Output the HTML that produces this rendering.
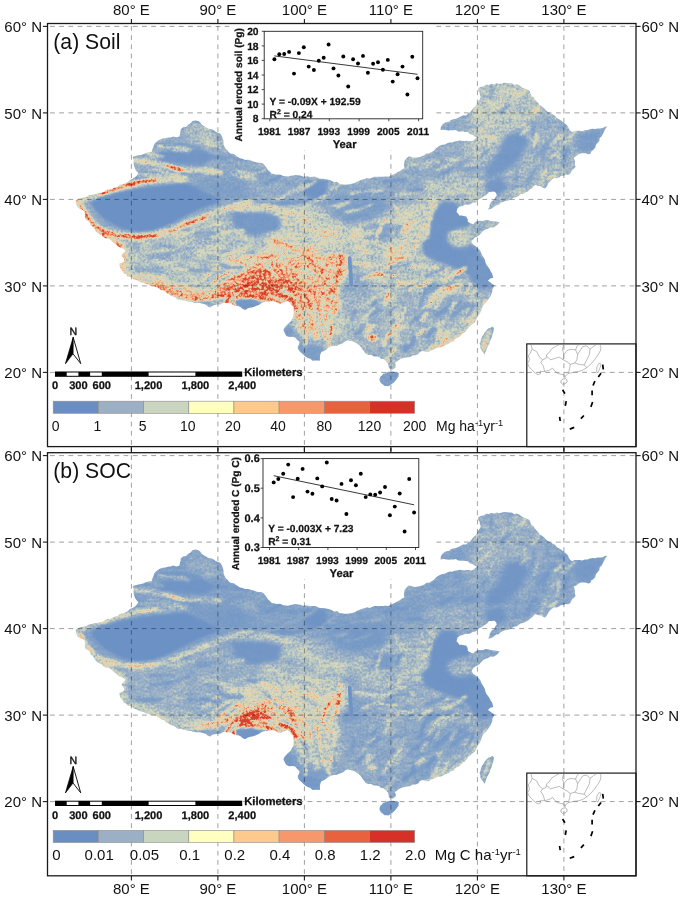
<!DOCTYPE html>
<html><head><meta charset="utf-8"><title>Soil and SOC erosion maps</title>
<style>
html,body{margin:0;padding:0;background:#fff}
svg{display:block}
text{font-family:"Liberation Sans",sans-serif;fill:#111}
.ax{font-size:15px}
.lg{font-size:14px}
.lgb{font-size:15px}
.ttl{font-size:21.2px}
.ct,.cl,.yr,.sb,.km{font-weight:bold;text-rendering:geometricPrecision;stroke:#111;stroke-width:.25px}
.ct{font-size:10.2px}
.cy{font-size:10.3px}
.cl{font-size:10.1px}
.yr{font-size:11.3px}
.sb{font-size:11.1px}
.km{font-size:11.3px}
.nn{font-size:10.6px;text-rendering:geometricPrecision;stroke:#111;stroke-width:.4px}
</style></head><body>
<svg width="685" height="899" viewBox="0 0 685 899">
<rect width="685" height="899" fill="#fff"/>
<defs><clipPath id="cn"><path d="M75.7 200.7 L78.4 198.8 L81.5 197.8 L84.2 197.6 L86.7 196.7 L89.0 195.3 L91.7 194.9 L94.0 194.3 L96.4 193.7 L98.8 193.4 L101.2 193.0 L103.4 192.0 L105.5 190.6 L107.8 189.6 L110.5 189.8 L112.6 188.4 L115.0 187.6 L117.7 186.9 L119.9 184.7 L122.7 184.2 L125.3 183.2 L127.9 182.0 L130.0 179.9 L132.6 178.8 L135.0 177.3 L136.9 175.4 L138.4 173.0 L136.3 170.9 L134.9 168.5 L134.0 165.7 L133.6 162.8 L133.7 159.7 L132.6 156.9 L135.5 156.1 L138.3 155.2 L141.3 154.9 L143.8 154.1 L146.3 152.8 L148.9 152.3 L151.6 152.0 L152.5 149.2 L153.5 146.5 L154.5 143.8 L156.2 142.0 L158.1 140.5 L160.3 139.4 L162.8 138.5 L165.4 138.3 L167.9 137.6 L170.5 137.4 L173.4 136.4 L176.4 137.3 L179.3 136.5 L179.9 134.1 L180.5 131.7 L180.8 129.2 L183.0 127.3 L186.0 126.9 L188.1 124.8 L190.6 123.3 L192.4 121.0 L195.4 120.4 L198.3 121.0 L200.4 122.6 L201.9 124.8 L204.1 126.3 L206.4 127.6 L208.7 128.8 L211.4 129.2 L213.7 130.2 L215.6 131.8 L217.9 132.7 L220.2 133.6 L221.9 136.4 L223.1 139.4 L223.5 141.9 L223.5 144.4 L224.6 146.7 L225.7 149.0 L227.5 150.6 L229.0 152.6 L231.1 153.8 L233.7 154.1 L235.7 155.5 L237.7 156.9 L240.0 158.3 L242.6 158.8 L245.0 159.9 L248.2 159.8 L251.3 160.7 L253.6 161.4 L255.9 162.2 L258.3 162.7 L260.7 162.8 L263.0 163.6 L264.8 165.6 L266.5 167.7 L267.9 170.0 L269.9 171.8 L271.7 173.8 L274.1 174.1 L276.4 174.7 L278.9 174.5 L281.2 175.0 L283.4 176.1 L285.9 176.3 L288.3 176.6 L290.7 175.8 L293.1 175.4 L295.5 174.9 L298.0 175.3 L300.4 175.5 L302.8 176.5 L305.3 176.4 L307.7 176.3 L310.1 177.0 L312.6 176.7 L315.1 176.8 L317.5 177.7 L319.8 178.8 L322.3 178.7 L324.8 179.1 L327.2 179.6 L329.7 180.0 L332.0 181.1 L334.3 182.5 L337.1 181.8 L339.2 183.7 L341.8 184.0 L344.7 184.5 L347.6 184.6 L350.5 184.0 L353.0 183.5 L355.3 182.7 L357.5 181.4 L359.9 180.6 L362.2 179.6 L364.6 179.0 L366.9 178.0 L369.6 178.7 L372.0 177.8 L374.3 176.7 L376.8 176.7 L379.7 176.7 L382.6 176.7 L385.6 176.5 L388.5 176.7 L390.6 175.4 L392.9 174.6 L395.2 173.6 L397.3 172.3 L399.8 171.0 L402.1 169.4 L404.6 168.0 L403.9 165.6 L404.2 163.1 L404.6 160.7 L406.5 158.2 L409.0 156.3 L411.6 156.9 L414.2 157.7 L416.9 157.6 L419.5 157.1 L421.9 156.2 L424.4 155.3 L426.5 153.6 L429.2 153.5 L431.5 152.1 L433.8 150.9 L435.5 148.7 L437.6 147.1 L439.8 145.7 L442.4 144.8 L444.9 144.6 L447.2 143.2 L449.6 142.4 L452.2 142.6 L454.5 141.6 L457.0 141.2 L459.4 140.6 L461.9 140.7 L464.3 141.2 L466.7 140.7 L469.2 140.9 L471.6 141.2 L473.6 140.2 L475.2 138.7 L477.1 137.5 L474.7 136.4 L472.5 134.8 L469.9 134.0 L468.0 132.0 L465.5 131.9 L463.1 131.5 L460.6 131.6 L458.2 131.4 L455.9 129.9 L453.4 130.2 L450.8 130.2 L448.3 130.6 L445.7 130.0 L443.2 129.7 L440.6 130.2 L440.8 127.2 L442.4 124.7 L444.3 123.0 L446.6 122.1 L449.1 121.8 L451.0 119.9 L453.4 119.3 L455.9 118.7 L458.4 117.7 L460.7 116.6 L463.0 115.2 L465.8 115.4 L468.0 113.8 L470.1 112.3 L471.7 110.2 L473.2 108.0 L475.3 106.5 L476.9 104.3 L477.9 101.9 L479.5 99.7 L480.8 97.4 L479.9 95.2 L479.7 92.7 L478.2 90.7 L478.2 88.2 L480.7 86.7 L483.8 86.4 L486.2 84.6 L488.9 84.9 L491.4 83.8 L494.1 84.4 L496.6 83.3 L499.3 84.0 L501.9 83.4 L504.5 82.8 L507.0 83.1 L509.4 83.3 L511.9 83.3 L514.1 85.0 L516.8 84.2 L519.1 85.3 L521.2 86.9 L523.3 88.3 L525.9 89.0 L528.2 90.1 L530.0 91.6 L530.5 94.1 L531.8 96.0 L533.7 97.4 L534.8 99.4 L536.4 101.1 L538.0 102.8 L539.2 104.7 L541.6 106.3 L544.0 108.0 L545.9 110.4 L548.3 112.0 L550.5 113.4 L552.9 114.5 L555.2 115.9 L556.9 118.0 L559.2 119.3 L561.8 120.9 L564.1 122.9 L566.5 124.7 L568.1 126.4 L568.8 128.7 L570.1 130.5 L572.0 132.0 L574.5 130.9 L577.1 130.8 L579.6 130.7 L582.3 131.3 L584.8 130.2 L587.4 130.3 L589.9 129.2 L592.4 128.7 L595.1 129.0 L597.6 128.4 L600.1 128.4 L602.6 128.1 L604.9 126.8 L607.4 126.6 L605.4 128.7 L604.2 131.3 L603.0 133.9 L601.7 136.2 L599.7 138.1 L599.3 140.9 L597.6 143.0 L595.9 145.0 L595.2 147.7 L593.6 149.8 L591.2 151.4 L590.3 153.9 L588.0 154.2 L585.7 153.2 L583.4 153.2 L581.1 153.2 L578.4 154.2 L576.3 156.3 L573.8 157.6 L574.5 159.8 L575.1 162.1 L574.7 164.5 L575.7 166.7 L574.2 168.4 L572.4 169.9 L571.1 171.8 L570.2 174.0 L568.0 175.0 L565.6 174.8 L563.5 175.9 L561.1 175.8 L559.1 177.4 L556.7 178.2 L554.0 178.1 L551.9 179.5 L549.8 181.5 L548.1 183.6 L546.9 186.3 L545.0 188.4 L542.7 187.4 L540.3 186.3 L537.7 185.9 L535.4 184.9 L533.6 186.3 L532.1 188.2 L530.1 189.3 L528.1 191.3 L525.6 192.5 L523.1 193.7 L520.5 194.3 L518.4 195.9 L516.1 197.2 L513.7 197.5 L511.7 199.0 L509.6 200.1 L507.3 200.7 L504.8 201.2 L502.5 202.0 L500.3 203.3 L498.6 205.1 L496.1 205.4 L494.2 206.8 L492.4 208.2 L490.4 209.1 L488.1 209.4 L489.5 207.0 L489.8 204.2 L491.5 201.5 L494.2 199.8 L495.2 197.4 L496.8 195.4 L496.1 193.0 L494.2 191.4 L491.6 191.8 L488.9 191.9 L487.5 193.8 L485.8 195.2 L483.7 196.3 L481.9 198.1 L479.4 198.9 L477.6 200.7 L475.5 202.4 L472.7 202.5 L470.6 204.2 L468.0 204.9 L465.2 204.6 L462.7 205.9 L459.8 206.6 L457.4 208.5 L456.5 212.0 L458.1 213.6 L459.2 215.6 L461.6 215.5 L463.9 216.1 L466.2 216.4 L467.6 218.9 L467.9 221.7 L470.4 223.2 L473.2 224.3 L474.9 222.5 L476.9 221.3 L479.3 220.8 L482.5 221.1 L485.4 219.9 L488.1 220.0 L490.6 220.9 L493.3 221.2 L496.4 221.6 L499.5 222.2 L498.0 224.3 L496.0 226.1 L493.6 227.6 L490.5 227.2 L488.1 228.7 L485.4 229.6 L483.1 231.0 L481.1 233.1 L479.4 235.0 L477.2 236.4 L474.9 237.5 L473.0 239.5 L471.4 241.8 L473.1 244.5 L475.8 246.2 L478.0 248.4 L480.2 250.6 L481.1 253.1 L482.3 255.4 L483.7 257.6 L484.9 259.8 L485.4 262.3 L486.3 264.6 L488.0 266.8 L489.6 269.1 L490.7 271.6 L492.1 273.4 L492.7 275.5 L493.3 277.7 L490.2 278.6 L487.9 280.8 L490.1 282.2 L492.2 283.9 L494.5 285.2 L493.6 287.3 L492.4 289.3 L492.3 291.7 L491.3 294.0 L490.4 296.2 L489.0 298.3 L487.7 300.3 L486.3 302.1 L484.6 303.8 L483.0 305.8 L481.9 307.9 L481.3 310.4 L480.0 313.3 L478.1 315.8 L477.2 318.1 L475.8 320.2 L474.8 322.4 L472.5 324.1 L470.3 326.0 L468.2 327.9 L466.6 330.0 L465.0 332.1 L462.7 333.4 L461.1 335.1 L459.5 336.8 L457.3 337.7 L455.1 339.1 L453.3 341.2 L450.7 342.1 L448.4 344.1 L445.5 344.9 L443.0 346.5 L440.6 347.5 L437.8 347.5 L435.4 348.7 L433.2 349.8 L430.8 350.4 L428.8 352.0 L426.5 352.1 L424.4 351.3 L422.2 350.9 L419.8 352.0 L418.2 354.3 L415.7 355.2 L412.6 355.3 L410.0 357.1 L406.9 357.4 L404.6 357.8 L402.3 358.2 L400.1 359.2 L398.1 360.4 L396.6 361.8 L394.8 362.8 L395.8 365.0 L395.6 367.4 L392.6 369.6 L389.2 368.6 L388.6 366.0 L388.0 363.4 L385.5 360.8 L383.6 359.1 L381.0 358.9 L379.2 357.0 L376.8 356.4 L373.8 356.4 L371.1 354.8 L368.1 354.9 L365.6 353.5 L364.0 351.2 L362.2 349.1 L360.7 346.7 L358.7 344.8 L356.4 343.2 L354.4 341.9 L352.2 341.3 L349.9 340.7 L347.6 340.3 L345.3 341.1 L343.5 342.9 L341.1 343.7 L338.9 344.7 L336.5 345.9 L333.7 345.8 L331.1 346.6 L328.6 347.6 L326.4 349.4 L324.1 351.1 L321.4 352.0 L320.2 354.8 L319.9 357.7 L319.9 360.7 L317.5 360.6 L315.0 360.6 L312.6 360.7 L310.4 358.8 L307.7 357.9 L305.3 356.4 L303.4 354.7 L301.5 352.9 L299.6 351.2 L298.0 349.1 L297.8 346.5 L299.2 344.3 L299.5 341.8 L297.2 339.7 L295.1 337.4 L292.2 336.8 L289.1 337.0 L286.3 335.9 L284.7 333.1 L283.4 330.1 L284.4 327.9 L285.9 326.1 L287.5 324.4 L289.2 322.8 L291.1 321.1 L292.0 318.8 L293.6 316.9 L293.5 314.3 L293.8 311.8 L293.2 309.2 L293.6 306.7 L291.1 305.3 L289.8 302.8 L287.8 300.9 L285.4 301.9 L282.9 302.6 L280.5 303.8 L278.3 303.2 L276.2 302.1 L274.0 301.3 L271.7 300.9 L268.9 301.8 L265.9 301.8 L263.0 302.3 L260.8 303.4 L258.8 304.9 L256.5 305.7 L254.2 306.7 L252.0 307.4 L249.6 307.8 L247.4 308.6 L245.4 310.0 L242.8 309.0 L240.6 307.1 L238.1 306.0 L235.4 305.7 L233.0 304.7 L230.8 303.2 L228.4 303.1 L226.0 303.0 L223.0 302.9 L220.3 304.5 L217.3 304.5 L214.7 305.1 L212.2 305.9 L210.0 307.4 L207.6 306.2 L205.6 304.5 L202.7 303.7 L199.8 303.0 L196.8 303.0 L193.9 302.7 L191.1 301.7 L188.1 301.5 L185.6 300.7 L183.0 300.4 L180.5 299.5 L177.8 299.5 L175.6 297.7 L173.3 296.4 L170.5 295.7 L168.6 294.1 L166.3 293.2 L164.7 291.3 L162.4 290.5 L160.2 289.5 L158.2 287.9 L156.0 286.9 L153.5 285.8 L150.7 286.1 L148.3 284.5 L145.7 284.0 L143.4 282.7 L140.7 282.3 L138.4 281.1 L136.2 280.0 L133.8 279.3 L132.0 277.5 L129.7 276.7 L127.4 276.4 L126.1 274.1 L123.8 273.8 L123.0 271.6 L121.6 269.8 L120.3 268.0 L119.6 265.9 L119.5 263.6 L122.3 262.7 L124.4 260.7 L123.5 258.1 L121.5 256.3 L122.3 254.0 L124.4 252.6 L125.3 250.4 L123.1 248.6 L120.5 247.6 L118.0 246.5 L116.4 244.6 L114.3 243.2 L112.5 241.5 L110.5 239.8 L108.3 238.6 L105.6 238.3 L103.4 237.0 L101.7 235.3 L99.5 234.4 L97.6 233.0 L95.7 231.3 L94.5 229.2 L93.2 227.0 L91.0 225.6 L90.0 222.9 L88.2 221.0 L85.9 219.7 L84.8 216.9 L85.0 213.8 L84.4 210.9 L81.9 209.6 L79.2 208.5 L77.1 206.6 L76.1 203.7 Z M380.4 376.5 L382.0 375.4 L383.0 373.8 L384.9 373.4 L386.5 372.3 L388.5 371.7 L390.5 371.5 L392.6 371.6 L394.8 372.0 L397.0 371.8 L399.0 373.2 L398.6 374.8 L398.6 376.5 L397.2 378.2 L396.0 380.0 L394.4 381.9 L392.5 383.5 L390.5 384.8 L388.5 386.3 L386.5 386.1 L384.5 386.0 L382.9 384.6 L381.2 383.2 L380.1 381.7 L379.4 380.0 L379.8 378.2 Z M492.8 326.6 L490.6 327.8 L488.2 328.6 L486.3 330.5 L484.5 332.5 L483.6 334.4 L482.4 336.1 L481.5 338.0 L480.8 339.8 L480.5 341.8 L479.6 343.5 L480.3 345.7 L480.4 348.0 L481.4 350.1 L482.8 352.0 L484.8 354.6 L485.4 352.2 L486.3 350.0 L487.2 347.4 L488.5 345.0 L489.7 343.1 L490.1 341.0 L491.0 339.0 L491.9 337.1 L492.3 335.0 L493.0 333.0 L493.6 330.8 L494.0 328.5 Z"/></clipPath><filter id="b0_6" x="-30%" y="-30%" width="160%" height="160%" color-interpolation-filters="sRGB"><feGaussianBlur stdDeviation="0.6"/></filter><filter id="b0_8" x="-30%" y="-30%" width="160%" height="160%" color-interpolation-filters="sRGB"><feGaussianBlur stdDeviation="0.8"/></filter><filter id="b0_9" x="-30%" y="-30%" width="160%" height="160%" color-interpolation-filters="sRGB"><feGaussianBlur stdDeviation="0.9"/></filter><filter id="b1" x="-30%" y="-30%" width="160%" height="160%" color-interpolation-filters="sRGB"><feGaussianBlur stdDeviation="1"/></filter><filter id="b1_1" x="-30%" y="-30%" width="160%" height="160%" color-interpolation-filters="sRGB"><feGaussianBlur stdDeviation="1.1"/></filter><filter id="b1_2" x="-30%" y="-30%" width="160%" height="160%" color-interpolation-filters="sRGB"><feGaussianBlur stdDeviation="1.2"/></filter><filter id="b1_3" x="-30%" y="-30%" width="160%" height="160%" color-interpolation-filters="sRGB"><feGaussianBlur stdDeviation="1.3"/></filter><filter id="b1_5" x="-30%" y="-30%" width="160%" height="160%" color-interpolation-filters="sRGB"><feGaussianBlur stdDeviation="1.5"/></filter><filter id="b1_6" x="-30%" y="-30%" width="160%" height="160%" color-interpolation-filters="sRGB"><feGaussianBlur stdDeviation="1.6"/></filter><filter id="b2" x="-30%" y="-30%" width="160%" height="160%" color-interpolation-filters="sRGB"><feGaussianBlur stdDeviation="2"/></filter><filter id="b2_5" x="-30%" y="-30%" width="160%" height="160%" color-interpolation-filters="sRGB"><feGaussianBlur stdDeviation="2.5"/></filter><filter id="b3" x="-30%" y="-30%" width="160%" height="160%" color-interpolation-filters="sRGB"><feGaussianBlur stdDeviation="3"/></filter><filter id="b4" x="-30%" y="-30%" width="160%" height="160%" color-interpolation-filters="sRGB"><feGaussianBlur stdDeviation="4"/></filter><filter id="b5" x="-30%" y="-30%" width="160%" height="160%" color-interpolation-filters="sRGB"><feGaussianBlur stdDeviation="5"/></filter><filter id="fa" x="60" y="70" width="560" height="330" filterUnits="userSpaceOnUse" color-interpolation-filters="sRGB"><feTurbulence type="fractalNoise" baseFrequency="0.42" numOctaves="2" seed="4" result="nf"/><feTurbulence type="fractalNoise" baseFrequency="0.07 0.2" numOctaves="2" seed="7" result="nmid"/><feTurbulence type="fractalNoise" baseFrequency="0.06" numOctaves="1" seed="11" result="nc"/><feComposite in="nmid" in2="nc" operator="arithmetic" k1="0" k2="0.64" k3="0.36" k4="0" result="nmc"/><feComposite in="nf" in2="nmc" operator="arithmetic" k1="0" k2="0.5" k3="0.5" k4="0" result="nm"/><feColorMatrix in="nm" type="matrix" values="1 0 0 0 0  1 0 0 0 0  1 0 0 0 0  0 0 0 0 1" result="ng"/><feComponentTransfer in="ng" result="np"><feFuncR type="gamma" amplitude="0.637" exponent="1.35"/><feFuncG type="gamma" amplitude="0.637" exponent="1.35"/><feFuncB type="gamma" amplitude="0.637" exponent="1.35"/></feComponentTransfer><feComposite in="SourceGraphic" in2="np" operator="arithmetic" k1="4" k2="0" k3="0" k4="0" result="sum0"/><feColorMatrix in="sum0" type="matrix" values="1 0 0 0 0  0 1 0 0 0  0 0 1 0 0  0 0 0 0 1" result="sum"/><feComponentTransfer in="sum"><feFuncR type="table" tableValues="0.427 0.445 0.463 0.480 0.498 0.527 0.557 0.586 0.616 0.652 0.688 0.725 0.761 0.786 0.812 0.837 0.863 0.881 0.900 0.919 0.937 0.936 0.935 0.934 0.933 0.923 0.912 0.901 0.890 0.879 0.869 0.858 0.847"/><feFuncG type="table" tableValues="0.573 0.585 0.598 0.611 0.624 0.642 0.661 0.679 0.698 0.725 0.751 0.777 0.804 0.817 0.829 0.842 0.855 0.835 0.816 0.796 0.776 0.734 0.692 0.650 0.608 0.558 0.508 0.458 0.408 0.369 0.329 0.290 0.251"/><feFuncB type="table" tableValues="0.773 0.775 0.776 0.778 0.780 0.779 0.778 0.777 0.776 0.772 0.767 0.762 0.757 0.751 0.745 0.739 0.733 0.701 0.669 0.636 0.604 0.563 0.522 0.480 0.439 0.404 0.369 0.333 0.298 0.270 0.241 0.213 0.184"/></feComponentTransfer><feGaussianBlur stdDeviation="0.75"/></filter><filter id="fb" x="60" y="70" width="560" height="330" filterUnits="userSpaceOnUse" color-interpolation-filters="sRGB"><feTurbulence type="fractalNoise" baseFrequency="0.42" numOctaves="2" seed="11" result="nf"/><feTurbulence type="fractalNoise" baseFrequency="0.07 0.2" numOctaves="2" seed="14" result="nmid"/><feTurbulence type="fractalNoise" baseFrequency="0.06" numOctaves="1" seed="18" result="nc"/><feComposite in="nmid" in2="nc" operator="arithmetic" k1="0" k2="0.64" k3="0.36" k4="0" result="nmc"/><feComposite in="nf" in2="nmc" operator="arithmetic" k1="0" k2="0.5" k3="0.5" k4="0" result="nm"/><feColorMatrix in="nm" type="matrix" values="1 0 0 0 0  1 0 0 0 0  1 0 0 0 0  0 0 0 0 1" result="ng"/><feComponentTransfer in="ng" result="np"><feFuncR type="gamma" amplitude="0.637" exponent="1.35"/><feFuncG type="gamma" amplitude="0.637" exponent="1.35"/><feFuncB type="gamma" amplitude="0.637" exponent="1.35"/></feComponentTransfer><feComposite in="SourceGraphic" in2="np" operator="arithmetic" k1="4" k2="0" k3="0" k4="0" result="sum0"/><feColorMatrix in="sum0" type="matrix" values="1 0 0 0 0  0 1 0 0 0  0 0 1 0 0  0 0 0 0 1" result="sum"/><feComponentTransfer in="sum"><feFuncR type="table" tableValues="0.427 0.445 0.463 0.480 0.498 0.527 0.557 0.586 0.616 0.652 0.688 0.725 0.761 0.786 0.812 0.837 0.863 0.881 0.900 0.919 0.937 0.936 0.935 0.934 0.933 0.923 0.912 0.901 0.890 0.879 0.869 0.858 0.847"/><feFuncG type="table" tableValues="0.573 0.585 0.598 0.611 0.624 0.642 0.661 0.679 0.698 0.725 0.751 0.777 0.804 0.817 0.829 0.842 0.855 0.835 0.816 0.796 0.776 0.734 0.692 0.650 0.608 0.558 0.508 0.458 0.408 0.369 0.329 0.290 0.251"/><feFuncB type="table" tableValues="0.773 0.775 0.776 0.778 0.780 0.779 0.778 0.777 0.776 0.772 0.767 0.762 0.757 0.751 0.745 0.739 0.733 0.701 0.669 0.636 0.604 0.563 0.522 0.480 0.439 0.404 0.369 0.333 0.298 0.270 0.241 0.213 0.184"/></feComponentTransfer><feGaussianBlur stdDeviation="0.75"/></filter><g id="flda"><rect x="60" y="70" width="560" height="330" fill="#454545"/><g filter="url(#b4)"><path d="M70 200L130 150L185 115L230 130L250 160L262 200L240 215L200 235L120 248L80 215Z" fill="#333333"/><path d="M112 240L160 234L215 217L262 228L262 258L240 276L190 288L150 282L120 268Z" fill="#525252"/><path d="M245 160L300 175L350 184L405 165L420 160L470 142L478 176L440 190L400 200L345 215L300 205L255 205Z" fill="#333333"/><path d="M258 206L300 206L345 220L350 250L300 260L262 256Z" fill="#6b6b6b"/><path d="M352 220L375 214L400 208L426 206L432 235L426 255L400 262L360 260L350 245Z" fill="#666666"/></g><g filter="url(#b3)"><path d="M420 180L450 176L478 178L490 190L470 200L445 200L425 198Z" fill="#575757"/></g><g fill="none" stroke-linecap="round" stroke-linejoin="round" filter="url(#b2_5)"><path d="M432 200L436 215L432 232L426 250" stroke="#808080" stroke-width="9"/></g><g filter="url(#b5)"><path d="M232 262L262 250L300 250L325 250L345 256L347 285L335 305L300 312L262 305L236 298Z" fill="#8c8c8c"/></g><g filter="url(#b4)"><path d="M292 300L336 300L345 320L338 338L318 340L300 333L290 318Z" fill="#757575"/></g><g filter="url(#b3)"><path d="M282 324L296 330L312 340L326 343L323 363L304 361L296 350L284 339Z" fill="#333333"/></g><g filter="url(#b2)"><path d="M298 345L320 348L321 362L304 360Z" fill="#1a1a1a"/><path d="M283 326L292 325L295 336L286 337Z" fill="#1a1a1a"/></g><g filter="url(#b3)"><path d="M338 272L362 270L372 285L358 298L340 296Z" fill="#333333"/></g><g filter="url(#b4)"><path d="M345 296L372 288L400 290L420 300L418 340L395 356L365 352L345 338Z" fill="#474747"/><path d="M420 288L470 286L490 292L478 318L455 340L420 352L415 320Z" fill="#3d3d3d"/><path d="M362 262L420 260L465 272L470 288L425 290L372 288Z" fill="#5c5c5c"/></g><g filter="url(#b2_5)"><ellipse cx="412" cy="283" rx="9" ry="5" transform="rotate(0 412 283)" fill="#262626"/></g><g filter="url(#b1_5)"><path d="M443.8 201.2L455.6 202.5L463.5 214.4L471.4 219.6L468.7 226.2L455.6 230.1L445.1 236.7L455.6 240.6L468.7 244.6L476.6 248.5L481.9 260.4L487.1 273.5L481.9 281.4L466.1 273.5L450.4 265.6L434.6 260.4L424.1 255.1L421.4 244.6L429.3 236.7L430.6 223.6L434.6 210.4Z" fill="#080808"/></g><g filter="url(#b2)"><path d="M466 255L486 258L495 272L494 287L480 290L470 280Z" fill="#0f0f0f"/><path d="M449 232L462 229L472 238L468 247L455 247L447 240Z" fill="#666666"/><path d="M476 224L497 221.5L490 229L478 234Z" fill="#404040"/></g><g filter="url(#b3)"><path d="M420 160L470 140L480 120L470 108L440 128L436 150Z" fill="#333333"/></g><g filter="url(#b4)"><path d="M478 88L505 82L530 92L540 108L525 125L505 132L495 150L478 160L465 150L470 120L480 100Z" fill="#5c5c5c"/></g><g filter="url(#b2_5)"><path d="M506 135L522 131L529 143L519 160L502 174L488 178L485 168L498 154Z" fill="#0f0f0f"/></g><g filter="url(#b2)"><path d="M485 181L501 177L509 190L496 199L487 192Z" fill="#0f0f0f"/></g><g filter="url(#b4)"><path d="M534 112L566 124L575 150L570 174L545 186L520 195L508 188L522 165L534 143Z" fill="#424242"/></g><g filter="url(#b3)"><path d="M574 133L607 126L598 143L590 154L576 152Z" fill="#1a1a1a"/></g><g filter="url(#b2)"><path d="M508 190L545 186L520 197L495 206L497 196Z" fill="#4c4c4c"/></g><g filter="url(#b1_2)"><path d="M91 203L100 197.5L115 193L135 189L160 185.5L185 183.5L197 188L210 194L222 199L214 204L200 209L185 216L170 224L152 231L135 232L118 227L104 219L95 210Z" fill="#000000"/></g><g filter="url(#b3)"><path d="M192 180L215 176L245 182L250 196L225 199L205 192Z" fill="#212121"/></g><g filter="url(#b1_5)"><path d="M157 153L180 149L203 150.5L214 157L203 165L180 163.5L160 161Z" fill="#0a0a0a"/></g><g filter="url(#b2)"><path d="M232 212L262 210L281 217L279 231L255 236L236 230Z" fill="#121212"/></g><g filter="url(#b1_5)"><path d="M304 180L326 181L327 197L312 199L304 194Z" fill="#080808"/></g><g filter="url(#b3)"><path d="M330 198L360 190L387 196L385 216L360 224L335 220Z" fill="#1f1f1f"/></g><g filter="url(#b2_5)"><path d="M362 225L392 224L395 238L378 241L364 236Z" fill="#242424"/></g><g filter="url(#b1)"><path d="M379 373L399 372L398 380L390 387L380 385Z" fill="#1f1f1f"/></g><g fill="none" stroke-linecap="round" stroke-linejoin="round" filter="url(#b1_5)"><path d="M77 201L101 193L122 186.5L138 182.5L157 179.5L185 178" stroke="#808080" stroke-width="6"/></g><g fill="none" stroke-linecap="round" stroke-linejoin="round" filter="url(#b0_8)"><path d="M100 193L122 186.5L138 182.5L157 179.5" stroke="#e6e6e6" stroke-width="2.4"/></g><g fill="none" stroke-linecap="round" stroke-linejoin="round" filter="url(#b1_5)"><path d="M78 203L86 215L94 225.5L104 231L122 235.5L141 237L157 234.5L175 229.5L191 222L207 216L228 209L250 203" stroke="#808080" stroke-width="6.5"/></g><g fill="none" stroke-linecap="round" stroke-linejoin="round" filter="url(#b0_8)"><path d="M80 206L86 215.5L94 226L104 231.5L122 236L141 237.5L157 235" stroke="#ebebeb" stroke-width="2.8"/><path d="M157 235L175 230L191 222.5L207 216.5" stroke="#cccccc" stroke-width="2.2"/></g><g fill="none" stroke-linecap="round" stroke-linejoin="round" filter="url(#b1_5)"><path d="M135 160L157 164L175 168L188 171.5L207 170.5L220 172" stroke="#808080" stroke-width="5"/></g><g fill="none" stroke-linecap="round" stroke-linejoin="round" filter="url(#b0_8)"><path d="M168 166L184 171" stroke="#e6e6e6" stroke-width="2.2"/></g><g fill="none" stroke-linecap="round" stroke-linejoin="round" filter="url(#b1_5)"><path d="M140 175L160 174L180 176" stroke="#616161" stroke-width="4"/></g><g fill="none" stroke-linecap="round" stroke-linejoin="round" filter="url(#b1_2)"><path d="M160 146L175 146.5L186 149.5" stroke="#999999" stroke-width="3"/></g><g filter="url(#b2_5)"><path d="M184 128L196 122L212 131L221 140L205 146L188 140Z" fill="#4c4c4c"/></g><g fill="none" stroke-linecap="round" stroke-linejoin="round" filter="url(#b2)"><path d="M118 248L123 262L122 272L131 280" stroke="#9e9e9e" stroke-width="8"/></g><g filter="url(#b2)"><path d="M96 229L118 241L127 251L121 262L110 246L98 237Z" fill="#bfbfbf"/></g><g fill="none" stroke-linecap="round" stroke-linejoin="round" filter="url(#b2_5)"><path d="M130 276L158 284L179 291.5L195 294.5L210 293L221 290.5L237 287L252 282" stroke="#8a8a8a" stroke-width="15"/></g><g fill="none" stroke-linecap="round" stroke-linejoin="round" filter="url(#b1_5)"><path d="M150 285L166 290L179 295L195 298" stroke="#a8a8a8" stroke-width="5"/><path d="M195 298L210 296L228 292L240 290" stroke="#cccccc" stroke-width="6"/></g><g filter="url(#b3)"><path d="M238 282L252 272L275 270L294 279L298 298L284 304L262 300L243 296Z" fill="#cccccc"/></g><g fill="none" stroke-linecap="round" stroke-linejoin="round" filter="url(#b0_9)"><path d="M246.6 310.2L247.7 307.1L249.8 304.4L252.7 302L256.3 300.3L260.4 299.3L264.6 299L268.8 299.5L272.8 300.7L276.2 302.6L278.9 305.1" stroke="#ffffff" stroke-width="3.6"/><path d="M239.3 309.4L240.8 305.1L243.8 301.1L247.9 297.8L253.1 295.4L258.8 293.9L264.9 293.5L270.9 294.2L276.5 296L281.3 298.7L285.2 302.2" stroke="#ffffff" stroke-width="3.4"/><path d="M231.9 308.7L234 303L237.8 297.9L243.2 293.6L249.8 290.4L257.3 288.5L265.1 288L272.9 288.9L280.2 291.2L286.5 294.7L291.5 299.3L294.8 304.6L296.3 310.3" stroke="#ffffff" stroke-width="3.4"/><path d="M224.6 307.9L227.1 300.9L231.8 294.7L238.4 289.4L246.5 285.5L255.7 283.1L265.4 282.5L275 283.6L283.9 286.5L291.7 290.8L297.8 296.4L301.9 302.9L303.7 309.9" stroke="#ffffff" stroke-width="3.4"/><path d="M225.8 291.4L233.6 285.2L243.3 280.5L254.2 277.8L265.6 277L277 278.4L287.6 281.7L296.8 286.8L304.1 293.5L308.9 301.2L311.1 309.6" stroke="#e0e0e0" stroke-width="3.0"/><path d="M219.2 287.9L228.4 280.6L239.7 275.1L252.5 271.9L265.9 271L279.3 272.6L291.7 276.5L302.4 282.5L310.9 290.3L316.6 299.3L319.2 309.1" stroke="#c7c7c7" stroke-width="2.8"/><path d="M211.6 283.8L222.3 275.2L235.6 268.9L250.5 265L266.3 264L281.9 265.9L296.4 270.4L309 277.5L319 286.6L325.6 297.2L328.6 308.7" stroke="#b2b2b2" stroke-width="2.8"/><path d="M202.8 279.1L215.4 269.1L230.9 261.7L248.3 257.2L266.6 256L284.8 258.2L301.8 263.5L316.5 271.7L328.1 282.3L335.9 294.7L339.4 308.1" stroke="#9e9e9e" stroke-width="2.8"/></g><g filter="url(#b1_3)"><path d="M234 300L250 298.5L266 300.5L272 305L262 311L240 311Z" fill="#0f0f0f"/></g><g fill="none" stroke-linecap="round" stroke-linejoin="round" filter="url(#b1_5)"><path d="M296 290L305 305L312 322L318 338" stroke="#b8b8b8" stroke-width="3"/></g><g fill="none" stroke-linecap="round" stroke-linejoin="round" filter="url(#b1_1)"><path d="M341 255L334 268L326 279L320 296" stroke="#ebebeb" stroke-width="2.8"/><path d="M333 254L326 267L318 279L313 294" stroke="#c7c7c7" stroke-width="2.4"/><path d="M346 262L340 274L333 285L327 300" stroke="#c7c7c7" stroke-width="2.4"/></g><g fill="none" stroke-linecap="round" stroke-linejoin="round" filter="url(#b1_3)"><path d="M335 303L333 322L330 338" stroke="#d9d9d9" stroke-width="3"/><path d="M318 300L322 328L330 346" stroke="#bfbfbf" stroke-width="2.5"/></g><g fill="none" stroke-linecap="round" stroke-linejoin="round" filter="url(#b1_5)"><path d="M300 312L306 330L306 345" stroke="#9e9e9e" stroke-width="3"/></g><g filter="url(#b2_5)"><path d="M330 258L345 254L350 268L343 282L334 283L329 270Z" fill="#9e9e9e"/></g><g fill="none" stroke-linecap="round" stroke-linejoin="round" filter="url(#b1_1)"><path d="M341 256L339 270L336 284" stroke="#ebebeb" stroke-width="2.6"/></g><g fill="none" stroke-linecap="round" stroke-linejoin="round" filter="url(#b0_6)"><path d="M349.5 258L351.5 285" stroke="#050505" stroke-width="3.6"/></g><g fill="none" stroke-linecap="round" stroke-linejoin="round" filter="url(#b2)"><path d="M240 208L271 208L292 213L308 226L327 234L345 239" stroke="#8c8c8c" stroke-width="6"/></g><g fill="none" stroke-linecap="round" stroke-linejoin="round" filter="url(#b1_6)"><path d="M262 255L290 262L318 270" stroke="#b8b8b8" stroke-width="4"/><path d="M270 240L295 248L320 252" stroke="#999999" stroke-width="4"/></g><g fill="none" stroke-linecap="round" stroke-linejoin="round" filter="url(#b1_0)"><path d="M374 274L396 275.5" stroke="#b8b8b8" stroke-width="2.6"/></g><g fill="none" stroke-linecap="round" stroke-linejoin="round" filter="url(#b1_5)"><path d="M355 263L385 267L415 265" stroke="#8c8c8c" stroke-width="4"/></g><g fill="none" stroke-linecap="round" stroke-linejoin="round" filter="url(#b0_9)"><path d="M440 284.5L450 285" stroke="#bfbfbf" stroke-width="2.5"/></g><g fill="none" stroke-linecap="round" stroke-linejoin="round" filter="url(#b2)"><path d="M352 236L372 232" stroke="#8c8c8c" stroke-width="5"/><path d="M400 216L408 232L405 250" stroke="#858585" stroke-width="5"/></g><g filter="url(#b1_3)"><ellipse cx="372" cy="338" rx="5" ry="3.2" transform="rotate(0 372 338)" fill="#d9d9d9"/></g><g fill="none" stroke-linecap="round" stroke-linejoin="round" filter="url(#b2_5)"><path d="M440 340L458 328L470 312L480 296" stroke="#6b6b6b" stroke-width="6"/></g><g fill="none" stroke-linecap="round" stroke-linejoin="round" filter="url(#b0_9)"><path d="M486 300L478 316L465 331L447 344L425 352" stroke="#9e9e9e" stroke-width="2.2"/></g><g fill="none" stroke-linecap="round" stroke-linejoin="round" filter="url(#b2)"><path d="M420 300L440 292L462 290" stroke="#6b6b6b" stroke-width="5"/></g><g fill="none" stroke-linecap="round" stroke-linejoin="round" filter="url(#b2_5)"><path d="M392 300L398 320L396 340" stroke="#707070" stroke-width="6"/></g><g fill="none" stroke-linecap="round" stroke-linejoin="round" filter="url(#b1)"><path d="M489.5 331L486 340L483.5 349" stroke="#8c8c8c" stroke-width="3"/></g><g fill="none" stroke-linecap="round" stroke-linejoin="round" filter="url(#b1_2)"><path d="M431.4 349L436.7 340.7L440.5 329.8" stroke="#808080" stroke-width="4.2"/><path d="M452.6 306.3L456.7 305L461.6 301.6" stroke="#1a1a1a" stroke-width="3.6"/><path d="M424.4 290.4L430.5 287.7L434 283.5" stroke="#8c8c8c" stroke-width="4.0"/><path d="M356.6 334.1L361.3 329L363.3 326.9" stroke="#1a1a1a" stroke-width="2.9"/><path d="M384.5 362.1L389 356.5L395.3 348.3" stroke="#999999" stroke-width="2.9"/><path d="M351.1 321.4L352.5 316.8L354.8 310.3" stroke="#1f1f1f" stroke-width="2.5"/><path d="M436.2 316.6L443.5 309.8L451 304" stroke="#1a1a1a" stroke-width="3.4"/><path d="M371 314.6L373.9 304.2L377.6 294.3" stroke="#1f1f1f" stroke-width="4.1"/><path d="M396.6 329.5L399.6 329L404.4 325.8" stroke="#8c8c8c" stroke-width="2.7"/><path d="M378.9 350.7L385.1 344.3L389 339.4" stroke="#1a1a1a" stroke-width="2.7"/><path d="M467.2 293.1L468.2 289L470 284.2" stroke="#8c8c8c" stroke-width="3.2"/><path d="M389.3 311.3L392.1 309.4L396.9 306.3" stroke="#1a1a1a" stroke-width="2.8"/><path d="M417.1 320.1L424.6 315.1L430.2 310.3" stroke="#1a1a1a" stroke-width="2.8"/><path d="M451.8 316.4L460.8 309L469.5 303.8" stroke="#1a1a1a" stroke-width="3.3"/><path d="M367.2 316.1L372.2 314.1L379.4 309.6" stroke="#1f1f1f" stroke-width="4.2"/><path d="M413.4 343.1L417.1 337.5L421.3 334" stroke="#1a1a1a" stroke-width="4.1"/><path d="M420.2 308.5L422.4 298.9L426.5 289.3" stroke="#1f1f1f" stroke-width="4.1"/><path d="M465.6 320.5L470.3 312.5L473.8 303.5" stroke="#1a1a1a" stroke-width="3.1"/><path d="M424.9 339.5L428.6 334.8L429.5 328.7" stroke="#737373" stroke-width="3.8"/><path d="M426.6 291.4L430.6 286.7L433.6 282.3" stroke="#1a1a1a" stroke-width="3.5"/><path d="M438 315.7L444.3 311.4L448 307.7" stroke="#1a1a1a" stroke-width="2.8"/><path d="M465 322.7L468.6 319.8L474.3 314" stroke="#8c8c8c" stroke-width="4.2"/><path d="M442.9 342.4L446.3 338.1L447.9 333.2" stroke="#999999" stroke-width="4.4"/><path d="M389.6 331.3L393.3 324.9L393.9 320.4" stroke="#1f1f1f" stroke-width="3.4"/><path d="M435.4 309L438.3 301.7L444 294.5" stroke="#8c8c8c" stroke-width="2.8"/><path d="M471 301.1L473.2 293.7L475.2 286.9" stroke="#737373" stroke-width="3.3"/><path d="M426.2 334.7L432.9 328.2L442.7 322.3" stroke="#737373" stroke-width="4.2"/><path d="M420.1 312.6L427.2 307.1L431.7 302.8" stroke="#737373" stroke-width="4.1"/><path d="M404.3 350.1L406.8 344.8L411.4 339" stroke="#1f1f1f" stroke-width="3.5"/><path d="M369 300.4L378 295.2L386 290.8" stroke="#737373" stroke-width="3.6"/><path d="M429.2 304.7L434.5 295.9L440.5 287.6" stroke="#8c8c8c" stroke-width="3.5"/><path d="M409 344L415.2 337.3L423.3 330" stroke="#999999" stroke-width="4.5"/><path d="M410.3 323.1L418.5 315.3L426.7 308.8" stroke="#1a1a1a" stroke-width="2.5"/><path d="M363.6 320.2L368.1 314.2L374 308.3" stroke="#808080" stroke-width="3.0"/><path d="M385.3 303L387.3 297.1L388.6 291.3" stroke="#999999" stroke-width="4.2"/><path d="M383.8 344.5L387.5 336.5L394.1 329.4" stroke="#999999" stroke-width="4.0"/><path d="M425.8 293L432.8 289.8L437.2 284.2" stroke="#1f1f1f" stroke-width="2.9"/><path d="M404.2 351.3L410.7 344.6L414.4 336.9" stroke="#1a1a1a" stroke-width="4.3"/><path d="M401.1 319.2L402.6 315.2L405.2 309.2" stroke="#808080" stroke-width="3.1"/><path d="M426.2 337.3L429.3 333.3L434.4 328" stroke="#1a1a1a" stroke-width="4.4"/><path d="M421.6 320.1L424.9 315.9L426.9 313.2" stroke="#808080" stroke-width="4.1"/><path d="M436.3 297.3L443.1 288.4L446.8 278.3" stroke="#808080" stroke-width="2.7"/><path d="M365 334.6L368.1 331.7L368.8 325.9" stroke="#999999" stroke-width="4.3"/><path d="M367.1 333.6L371 328.6L374.2 326.3" stroke="#808080" stroke-width="3.8"/><path d="M450 310L452.6 306.5L455.8 302.3" stroke="#808080" stroke-width="3.4"/><path d="M386.5 337.3L393 327.9L400.3 321.2" stroke="#999999" stroke-width="3.1"/><path d="M441.8 285.2L445.8 284.8L452.8 283.4" stroke="#262626" stroke-width="3.9"/><path d="M434.3 266L439.9 269.3L447.4 270.4" stroke="#9e9e9e" stroke-width="3.3"/><path d="M362.6 279.2L370.9 276.4L378.1 272.9" stroke="#949494" stroke-width="3.8"/><path d="M389.1 265.1L396.7 259.8L404.7 256.8" stroke="#949494" stroke-width="3.6"/><path d="M442.2 288.6L450.2 287.4L460 285.8" stroke="#9e9e9e" stroke-width="3.8"/><path d="M410.2 289L415.2 286.9L420.6 285.6" stroke="#949494" stroke-width="2.6"/><path d="M449 273L456.2 273.9L464.6 276.6" stroke="#262626" stroke-width="2.8"/><path d="M419.7 288.5L424.8 283.7L431.7 280.8" stroke="#9e9e9e" stroke-width="3.0"/><path d="M453.2 277.7L459.2 276.7L465.8 278" stroke="#262626" stroke-width="2.6"/><path d="M396.7 282.5L405.8 283.3L416.4 281.2" stroke="#9e9e9e" stroke-width="3.5"/><path d="M450.2 276.7L457.9 272.2L465.5 267.9" stroke="#9e9e9e" stroke-width="3.7"/><path d="M425.8 276.3L433.4 272.6L443.8 268.6" stroke="#262626" stroke-width="3.4"/><path d="M390.2 267.4L399 265.9L409.2 265" stroke="#262626" stroke-width="3.4"/><path d="M384.7 273.9L389.1 272.6L394.3 272.5" stroke="#262626" stroke-width="3.0"/><path d="M427.4 292.7L432.8 288.5L437.6 285.4" stroke="#262626" stroke-width="4.0"/><path d="M441.7 278.8L450.1 276.2L460.4 273" stroke="#9e9e9e" stroke-width="2.7"/><path d="M203.7 225.5L210.2 224.7L219.5 223.8" stroke="#808080" stroke-width="2.1"/><path d="M175.2 236L180.8 236.7L186.1 234.8" stroke="#808080" stroke-width="2.9"/><path d="M223.5 232.9L233.2 231.7L243.6 230.3" stroke="#808080" stroke-width="2.8"/><path d="M196.2 252.9L207.2 253L218.5 250.6" stroke="#757575" stroke-width="2.4"/><path d="M221.1 264.3L230.7 265.9L240.2 265.2" stroke="#2e2e2e" stroke-width="2.4"/><path d="M171.7 267.6L179.2 269L189.5 269.3" stroke="#757575" stroke-width="2.5"/><path d="M166.2 253.1L170.4 251.1L177 250.5" stroke="#808080" stroke-width="2.1"/><path d="M207.4 265.3L217.7 261.1L229.2 257.5" stroke="#757575" stroke-width="2.0"/><path d="M181 230.1L187.2 229.6L191.8 231.4" stroke="#292929" stroke-width="2.6"/><path d="M238.8 251.1L246.3 250.7L255.1 252.5" stroke="#2e2e2e" stroke-width="3.3"/><path d="M150 246.7L163.4 245.5L174.1 246.4" stroke="#292929" stroke-width="2.2"/><path d="M229.4 231.5L235.6 232L241.7 231.8" stroke="#757575" stroke-width="3.4"/><path d="M206.5 254.5L215.5 254.2L227.1 251.4" stroke="#2e2e2e" stroke-width="2.6"/><path d="M170.9 251L178.9 250.6L183.9 250.6" stroke="#808080" stroke-width="2.5"/><path d="M234.3 258.6L240.8 258.9L248.3 260" stroke="#808080" stroke-width="2.2"/><path d="M182.4 283.2L188.8 283.3L197.4 282" stroke="#757575" stroke-width="2.7"/><path d="M204.5 252.2L216.6 253.6L229.6 253.9" stroke="#808080" stroke-width="3.1"/><path d="M153 259.7L164.7 262.4L176.3 262.6" stroke="#757575" stroke-width="3.2"/><path d="M189.1 269.8L196.8 271.3L202.6 269.9" stroke="#292929" stroke-width="3.2"/><path d="M224.7 266.8L233.4 265.9L243 267.9" stroke="#808080" stroke-width="3.2"/><path d="M180.1 233.5L188.7 233.1L195.5 231.3" stroke="#757575" stroke-width="3.4"/><path d="M166.9 233.7L172.6 234.5L180.1 234.5" stroke="#808080" stroke-width="2.7"/><path d="M201.6 269.8L213.1 272L222 272.5" stroke="#292929" stroke-width="2.7"/><path d="M137.3 270.5L150.2 270.2L160.1 270.5" stroke="#2e2e2e" stroke-width="3.1"/><path d="M193.8 251.4L203.9 249.7L213.3 248.1" stroke="#757575" stroke-width="2.2"/><path d="M220.4 265.2L230.2 267.9L242.2 267.8" stroke="#292929" stroke-width="3.2"/><path d="M197 236.9L204.2 236.2L209 236.3" stroke="#2e2e2e" stroke-width="3.0"/><path d="M221.8 256.1L232.3 252L245 250" stroke="#808080" stroke-width="3.3"/><path d="M222.2 260.4L227.2 259.3L234.3 257.5" stroke="#808080" stroke-width="2.8"/><path d="M157.2 254.5L167.2 253.4L179.6 251.9" stroke="#292929" stroke-width="2.3"/><path d="M196.6 232.5L206.5 232.8L214.7 233" stroke="#292929" stroke-width="3.0"/><path d="M148.4 259.5L158.4 254.7L170.7 252.1" stroke="#2e2e2e" stroke-width="2.5"/><path d="M206.9 246.9L213.1 248.2L221.7 247.9" stroke="#757575" stroke-width="2.2"/><path d="M167 255.1L177 251L188.9 247.3" stroke="#2e2e2e" stroke-width="2.5"/><path d="M475.3 115.6L475.7 110.8L475.3 106.3" stroke="#737373" stroke-width="2.6"/><path d="M524.9 186.8L529.2 182.4L532.1 176.8" stroke="#212121" stroke-width="2.6"/><path d="M560.4 128.3L565.8 124L568.3 122.4" stroke="#212121" stroke-width="3.2"/><path d="M490.9 99.7L490.7 94.3L492.2 87.1" stroke="#212121" stroke-width="2.1"/><path d="M562.6 143L569.4 138L575.6 131.5" stroke="#737373" stroke-width="2.4"/><path d="M554.7 141.8L558 138.9L561.2 136" stroke="#808080" stroke-width="3.2"/><path d="M524.9 126.6L524.6 120.1L525.9 116.4" stroke="#737373" stroke-width="2.6"/><path d="M479.6 131.8L486.5 126.3L490.6 122.6" stroke="#808080" stroke-width="2.5"/><path d="M500.6 106.5L503 102.4L505.9 98.6" stroke="#737373" stroke-width="2.1"/><path d="M542.6 146.9L549.3 140.4L556 136" stroke="#212121" stroke-width="2.1"/><path d="M546.9 125.8L548.1 121.4L547.2 118.8" stroke="#212121" stroke-width="2.0"/><path d="M511.6 98.8L514 92L516.6 87.4" stroke="#808080" stroke-width="2.2"/><path d="M542.8 160.7L543.4 155.9L546.4 148.6" stroke="#212121" stroke-width="2.6"/><path d="M500.9 112.6L504.2 109.3L509.8 104.6" stroke="#212121" stroke-width="2.9"/><path d="M563.7 161.7L566.3 156.2L566 149.1" stroke="#212121" stroke-width="2.8"/><path d="M489.1 148.1L489.5 141.6L492.9 134.5" stroke="#808080" stroke-width="3.1"/><path d="M486.3 124.2L490 117.6L494.4 108.4" stroke="#737373" stroke-width="2.8"/><path d="M557.3 166.1L558.8 158.9L558.3 151.1" stroke="#737373" stroke-width="3.0"/><path d="M516.5 96.9L522.4 94.4L526.1 88.9" stroke="#808080" stroke-width="2.9"/><path d="M531.5 114.1L534.9 110.5L538.4 107.2" stroke="#808080" stroke-width="3.2"/><path d="M526.2 180.6L531.9 174.1L535.8 168.3" stroke="#212121" stroke-width="2.3"/><path d="M520.6 135.2L526.3 129.7L534.9 126" stroke="#737373" stroke-width="2.1"/><path d="M515.6 187.2L515.2 179L517.3 170.1" stroke="#212121" stroke-width="2.1"/><path d="M548.7 177.5L553.1 176.6L555.7 172.6" stroke="#808080" stroke-width="3.2"/><path d="M541.6 153.3L544.6 148.9L548.3 145.5" stroke="#212121" stroke-width="3.4"/><path d="M563.5 154.1L567.1 149.4L568.3 146.8" stroke="#212121" stroke-width="3.2"/><path d="M473.9 111.6L477.6 107.1L479.9 105" stroke="#808080" stroke-width="2.1"/><path d="M481.4 157.3L484.6 152.5L487.9 150.1" stroke="#212121" stroke-width="3.4"/><path d="M477.9 123.2L481.2 118.3L483 116" stroke="#737373" stroke-width="2.9"/><path d="M532.5 135.9L534.1 130.5L533.3 122.6" stroke="#212121" stroke-width="2.8"/><path d="M541.3 186.2L542.5 178L545.5 171.2" stroke="#737373" stroke-width="3.2"/><path d="M533.9 145.4L536.2 139.4L536.6 133.1" stroke="#737373" stroke-width="3.2"/><path d="M551.4 158L554.5 154.2L560.4 151.1" stroke="#737373" stroke-width="2.5"/><path d="M536.5 156.3L540.9 150.8L547.9 147.2" stroke="#212121" stroke-width="3.4"/><path d="M271.8 203L282.5 201.7L290.8 202.9" stroke="#141414" stroke-width="3.1"/><path d="M394.8 194.7L409.6 193.3L421.7 192.3" stroke="#6b6b6b" stroke-width="2.3"/><path d="M265.9 183.2L275.9 178.1L284.2 173.6" stroke="#141414" stroke-width="3.1"/><path d="M445.6 159.4L458.9 158.8L469.7 156.5" stroke="#6b6b6b" stroke-width="2.5"/><path d="M337.3 207.6L342.1 205.6L348.6 202.2" stroke="#6b6b6b" stroke-width="3.2"/><path d="M281.8 204.2L293.6 203.2L307.5 199.7" stroke="#141414" stroke-width="2.1"/><path d="M353.9 208.5L362.7 205.4L370.6 204.8" stroke="#141414" stroke-width="2.2"/><path d="M440.6 174.3L446.3 172.1L452.1 168.4" stroke="#141414" stroke-width="2.6"/><path d="M372.4 193.4L378.9 190.4L383.1 188.1" stroke="#6b6b6b" stroke-width="2.5"/><path d="M350.9 193.8L362.2 191.4L373.9 190.7" stroke="#616161" stroke-width="2.6"/><path d="M426.9 162.4L431.9 160.5L439 161.4" stroke="#616161" stroke-width="2.3"/><path d="M330.7 189.6L336.8 185.8L345.1 181.6" stroke="#6b6b6b" stroke-width="3.2"/><path d="M410.2 164.7L417.9 164.3L427.7 163.6" stroke="#616161" stroke-width="2.7"/><path d="M421.2 190.6L431.7 188.6L441.7 187.6" stroke="#6b6b6b" stroke-width="2.3"/><path d="M273.1 201L279.9 199.4L284.9 195.6" stroke="#6b6b6b" stroke-width="2.2"/><path d="M346 212.1L357.5 209.8L371.9 204.6" stroke="#616161" stroke-width="2.7"/><path d="M383.9 182.7L395.9 179.7L406.7 179.1" stroke="#141414" stroke-width="2.6"/><path d="M407.2 190.3L414.3 189.8L421.6 190" stroke="#141414" stroke-width="2.7"/><path d="M255.1 173.6L259.2 172.6L266.1 170.1" stroke="#6b6b6b" stroke-width="2.1"/><path d="M420.6 168.7L426.6 167L429.9 164.7" stroke="#616161" stroke-width="3.2"/><path d="M462.1 172.8L470.7 168.9L479.1 165.8" stroke="#141414" stroke-width="2.1"/><path d="M298.8 190.2L307 186.7L315.7 180.9" stroke="#616161" stroke-width="3.0"/><path d="M307.3 204.3L319 199.7L328.4 192.5" stroke="#616161" stroke-width="3.2"/><path d="M298 187.2L306.9 184.8L313.7 183" stroke="#6b6b6b" stroke-width="2.1"/><path d="M451.2 176.6L457.6 173.8L466.8 173.4" stroke="#616161" stroke-width="2.7"/><path d="M286.7 194.5L293 191.9L298.5 190.3" stroke="#616161" stroke-width="3.2"/><path d="M390.3 174.4L400.2 170.7L412.6 165.9" stroke="#616161" stroke-width="2.6"/><path d="M437.2 170.1L444.7 166.7L454.6 161.9" stroke="#616161" stroke-width="3.1"/><path d="M464.3 165.8L472.8 165.4L480.2 165" stroke="#616161" stroke-width="2.8"/><path d="M333.4 206L339.9 204L345.4 202.8" stroke="#616161" stroke-width="2.2"/><path d="M396.7 234.6L398.7 231.3L398.8 226" stroke="#2e2e2e" stroke-width="3.7"/><path d="M348.5 238.1L355.5 233.1L361 228.9" stroke="#808080" stroke-width="3.8"/><path d="M396.3 233L400.1 228.4L404.2 222.6" stroke="#2e2e2e" stroke-width="3.0"/><path d="M385 256.9L388.2 253L392.1 248.6" stroke="#8c8c8c" stroke-width="2.7"/><path d="M423.4 230.2L426.7 223.9L431.1 217.3" stroke="#808080" stroke-width="3.2"/><path d="M401.8 231.7L405.6 224.1L406.7 218" stroke="#8c8c8c" stroke-width="3.2"/><path d="M415.3 249.2L416.4 242.4L419.6 235.2" stroke="#808080" stroke-width="3.9"/><path d="M364.2 263.6L365.4 257.2L363.8 252.6" stroke="#808080" stroke-width="3.1"/><path d="M381.3 225.7L384.2 219.6L389 215.8" stroke="#808080" stroke-width="3.0"/><path d="M401.7 260L405.7 256.5L407.9 254.1" stroke="#8c8c8c" stroke-width="2.5"/><path d="M406.8 228.4L408.9 225.5L411.2 222.1" stroke="#808080" stroke-width="3.9"/><path d="M391.5 262.4L391 254.4L391.8 246.5" stroke="#808080" stroke-width="2.6"/><path d="M388.6 236.8L391.4 232.1L393.7 227.2" stroke="#808080" stroke-width="3.6"/><path d="M398.9 220L397.8 212.9L394.5 206.2" stroke="#8c8c8c" stroke-width="2.6"/><path d="M388.4 237.1L390.6 232.5L393.2 226.6" stroke="#2e2e2e" stroke-width="3.2"/><path d="M376.1 241.5L377.7 233.6L380.4 228.5" stroke="#8c8c8c" stroke-width="3.5"/><path d="M396.4 257.8L400.5 250.9L401.7 244.5" stroke="#8c8c8c" stroke-width="3.6"/><path d="M424.7 217.2L424.5 211.8L421.5 203.6" stroke="#808080" stroke-width="2.7"/><path d="M272.7 281.3L280.4 284.7L288 287.6" stroke="#a3a3a3" stroke-width="3.3"/><path d="M276.8 281.9L281.6 287.7L288.4 293.3" stroke="#b8b8b8" stroke-width="3.0"/><path d="M266.4 273.8L275.2 279.3L283.3 282.7" stroke="#b8b8b8" stroke-width="2.3"/><path d="M249.2 259.8L254.5 267.1L260 272.3" stroke="#a3a3a3" stroke-width="3.1"/><path d="M279.4 286.3L286.5 291.9L290.6 294.5" stroke="#b8b8b8" stroke-width="3.2"/><path d="M262.8 261.7L267.7 265L271 268.9" stroke="#666666" stroke-width="2.7"/><path d="M325.7 296.2L331.1 301.1L334 306.1" stroke="#c2c2c2" stroke-width="2.8"/><path d="M285.1 259.9L290.9 262.1L297.9 267.2" stroke="#c2c2c2" stroke-width="3.3"/><path d="M243.9 262.3L248.5 265.3L251.3 270.3" stroke="#a3a3a3" stroke-width="2.8"/><path d="M248.1 287.6L253.5 294.2L261.3 301.3" stroke="#a3a3a3" stroke-width="2.2"/><path d="M229.3 259.7L238.2 261.5L246.6 266" stroke="#a3a3a3" stroke-width="2.5"/><path d="M255.9 292.3L260 295.6L266.7 301.4" stroke="#a3a3a3" stroke-width="2.2"/><path d="M265.8 281.5L273.1 287L278.4 294.7" stroke="#c2c2c2" stroke-width="2.5"/><path d="M308.9 259.4L317.5 265.6L323.4 273.6" stroke="#c2c2c2" stroke-width="3.4"/><path d="M291.5 272.6L296.5 275.7L298.7 280.3" stroke="#c2c2c2" stroke-width="2.6"/><path d="M312 282.5L317.4 285.3L321.4 290.7" stroke="#a3a3a3" stroke-width="2.9"/><path d="M295.7 282.9L301.3 288.5L304.4 292.5" stroke="#b8b8b8" stroke-width="2.6"/><path d="M274.3 250.2L279.9 254.4L285.1 260.8" stroke="#666666" stroke-width="2.4"/><path d="M272.5 267.1L281.5 271.5L287.8 275.3" stroke="#b8b8b8" stroke-width="2.9"/><path d="M265 263.2L269.8 268.8L277.1 277" stroke="#666666" stroke-width="2.6"/><path d="M280.2 290.8L290.1 295.6L298.9 298.7" stroke="#666666" stroke-width="2.7"/><path d="M295.9 301L304 305.3L310.4 307.5" stroke="#b8b8b8" stroke-width="3.1"/><path d="M268.7 282.9L273.9 287.3L278.2 288.7" stroke="#c2c2c2" stroke-width="3.2"/><path d="M267.3 290.3L275.1 293.4L280.9 299" stroke="#b8b8b8" stroke-width="2.6"/><path d="M303.2 283.8L312 289.2L321.6 296.8" stroke="#a3a3a3" stroke-width="2.9"/><path d="M302 268.7L309.1 271.6L317.7 275.1" stroke="#666666" stroke-width="2.5"/><path d="M267.9 294.5L277.9 299L288.5 303" stroke="#666666" stroke-width="2.5"/><path d="M244.3 270.3L247.9 273.8L254 274.4" stroke="#a3a3a3" stroke-width="2.4"/><path d="M275.2 302.4L282.3 306.2L289.1 308.9" stroke="#c2c2c2" stroke-width="2.6"/><path d="M308.9 263L316.6 267.7L325.5 273.3" stroke="#b8b8b8" stroke-width="3.1"/><path d="M316.8 331.5L314.2 326.6L314.4 322.4" stroke="#9e9e9e" stroke-width="2.8"/><path d="M315 338.9L315.2 336.3L314.7 330.8" stroke="#9e9e9e" stroke-width="2.2"/><path d="M335.7 310.3L333.9 305.9L332.7 299.4" stroke="#b2b2b2" stroke-width="3.1"/><path d="M334.5 336.1L334 327L334 318.2" stroke="#4c4c4c" stroke-width="2.5"/><path d="M298.4 318.6L297.9 312.5L296.2 309.2" stroke="#b2b2b2" stroke-width="2.6"/><path d="M296.2 331.2L294.8 325.2L292.9 319" stroke="#4c4c4c" stroke-width="2.9"/><path d="M326.6 323L326.4 314.4L325.1 308.1" stroke="#b2b2b2" stroke-width="2.4"/><path d="M311.6 328.4L309.7 324.9L308.5 319.1" stroke="#b2b2b2" stroke-width="2.6"/><path d="M302.9 326L300.8 318.4L301.1 310.4" stroke="#b2b2b2" stroke-width="2.1"/><path d="M306 325.4L305.5 318.5L303.6 311.6" stroke="#9e9e9e" stroke-width="2.3"/><path d="M307.8 326L306.6 319.1L302.6 314.2" stroke="#4c4c4c" stroke-width="2.4"/><path d="M301.8 334.2L299.5 331.3L298.7 326.7" stroke="#9e9e9e" stroke-width="2.2"/><path d="M160.5 178.9L169.6 178.7L180.6 180.2" stroke="#737373" stroke-width="2.9"/><path d="M206.1 144L216.4 145.8L225.2 150.3" stroke="#737373" stroke-width="2.8"/><path d="M162.7 144.7L173.5 145.5L182.4 144.4" stroke="#141414" stroke-width="2.4"/><path d="M173.7 150.4L183.4 150.7L190.3 150" stroke="#666666" stroke-width="2.6"/><path d="M208.6 156.6L216.6 157.3L226.1 158.4" stroke="#141414" stroke-width="2.7"/><path d="M184.5 144.4L191.6 146.4L200.2 148.6" stroke="#141414" stroke-width="2.3"/><path d="M236.6 171.5L246.1 173.1L253.3 173.5" stroke="#737373" stroke-width="2.1"/><path d="M231.7 174.5L240 177.7L246.1 178.6" stroke="#666666" stroke-width="2.2"/><path d="M234.9 159.1L242.1 159.7L246.5 159.6" stroke="#141414" stroke-width="2.5"/><path d="M202.9 170.4L209.7 172.2L214.7 173.7" stroke="#737373" stroke-width="2.2"/><path d="M181.5 173.6L192.1 174.7L199.8 173.8" stroke="#141414" stroke-width="2.1"/><path d="M146 152.6L153.1 154.5L162.7 156.6" stroke="#666666" stroke-width="2.9"/><path d="M148.4 170.1L157.5 170.5L168.2 172.6" stroke="#737373" stroke-width="2.4"/><path d="M217 143.1L225.3 144.4L231.5 147.4" stroke="#666666" stroke-width="2.6"/><path d="M175.9 149.5L181.5 149.5L188 152.3" stroke="#666666" stroke-width="2.5"/><path d="M241.2 175.8L250.2 177.1L256.2 179.2" stroke="#737373" stroke-width="2.3"/></g></g><g id="fldb"><rect x="60" y="70" width="560" height="330" fill="#303030"/><g filter="url(#b4)"><path d="M70 200L130 150L185 115L230 130L250 160L262 200L240 215L200 235L120 248L80 215Z" fill="#232323"/><path d="M112 240L160 234L215 217L262 228L262 258L240 276L190 288L150 282L120 268Z" fill="#3b3b3b"/><path d="M245 160L300 175L350 184L405 165L420 160L470 142L478 176L440 190L400 200L345 215L300 205L255 205Z" fill="#232323"/><path d="M258 206L300 206L345 220L350 250L300 260L262 256Z" fill="#4a4a4a"/><path d="M352 220L375 214L400 208L426 206L432 235L426 255L400 262L360 260L350 245Z" fill="#474747"/></g><g filter="url(#b3)"><path d="M420 180L450 176L478 178L490 190L470 200L445 200L425 198Z" fill="#3c3c3c"/></g><g fill="none" stroke-linecap="round" stroke-linejoin="round" filter="url(#b2_5)"><path d="M432 200L436 215L432 232L426 250" stroke="#595959" stroke-width="9"/></g><g filter="url(#b5)"><path d="M232 262L262 250L300 250L325 250L345 256L347 285L335 305L300 312L262 305L236 298Z" fill="#656565"/></g><g filter="url(#b4)"><path d="M292 300L336 300L345 320L338 338L318 340L300 333L290 318Z" fill="#525252"/></g><g filter="url(#b3)"><path d="M282 324L296 330L312 340L326 343L323 363L304 361L296 350L284 339Z" fill="#232323"/></g><g filter="url(#b2)"><path d="M298 345L320 348L321 362L304 360Z" fill="#111111"/><path d="M283 326L292 325L295 336L286 337Z" fill="#111111"/></g><g filter="url(#b3)"><path d="M338 272L362 270L372 285L358 298L340 296Z" fill="#232323"/></g><g filter="url(#b4)"><path d="M345 296L372 288L400 290L420 300L418 340L395 356L365 352L345 338Z" fill="#313131"/><path d="M420 288L470 286L490 292L478 318L455 340L420 352L415 320Z" fill="#2a2a2a"/><path d="M362 262L420 260L465 272L470 288L425 290L372 288Z" fill="#3f3f3f"/></g><g filter="url(#b2_5)"><ellipse cx="412" cy="283" rx="9" ry="5" transform="rotate(0 412 283)" fill="#1a1a1a"/></g><g filter="url(#b1_5)"><path d="M443.8 201.2L455.6 202.5L463.5 214.4L471.4 219.6L468.7 226.2L455.6 230.1L445.1 236.7L455.6 240.6L468.7 244.6L476.6 248.5L481.9 260.4L487.1 273.5L481.9 281.4L466.1 273.5L450.4 265.6L434.6 260.4L424.1 255.1L421.4 244.6L429.3 236.7L430.6 223.6L434.6 210.4Z" fill="#050505"/></g><g filter="url(#b2)"><path d="M466 255L486 258L495 272L494 287L480 290L470 280Z" fill="#0a0a0a"/><path d="M449 232L462 229L472 238L468 247L455 247L447 240Z" fill="#474747"/><path d="M476 224L497 221.5L490 229L478 234Z" fill="#2c2c2c"/></g><g filter="url(#b3)"><path d="M420 160L470 140L480 120L470 108L440 128L436 150Z" fill="#232323"/></g><g filter="url(#b4)"><path d="M478 88L505 82L530 92L540 108L525 125L505 132L495 150L478 160L465 150L470 120L480 100Z" fill="#3f3f3f"/></g><g filter="url(#b2_5)"><path d="M506 135L522 131L529 143L519 160L502 174L488 178L485 168L498 154Z" fill="#0a0a0a"/></g><g filter="url(#b2)"><path d="M485 181L501 177L509 190L496 199L487 192Z" fill="#0a0a0a"/></g><g filter="url(#b4)"><path d="M534 112L566 124L575 150L570 174L545 186L520 195L508 188L522 165L534 143Z" fill="#2d2d2d"/></g><g filter="url(#b3)"><path d="M574 133L607 126L598 143L590 154L576 152Z" fill="#111111"/></g><g filter="url(#b2)"><path d="M508 190L545 186L520 197L495 206L497 196Z" fill="#343434"/></g><g filter="url(#b1_2)"><path d="M91 203L100 197.5L115 193L135 189L160 185.5L185 183.5L197 188L210 194L222 199L214 204L200 209L185 216L170 224L152 231L135 232L118 227L104 219L95 210Z" fill="#000000"/></g><g filter="url(#b3)"><path d="M192 180L215 176L245 182L250 196L225 199L205 192Z" fill="#171717"/></g><g filter="url(#b1_5)"><path d="M157 153L180 149L203 150.5L214 157L203 165L180 163.5L160 161Z" fill="#070707"/></g><g filter="url(#b2)"><path d="M232 212L262 210L281 217L279 231L255 236L236 230Z" fill="#0c0c0c"/></g><g filter="url(#b1_5)"><path d="M304 180L326 181L327 197L312 199L304 194Z" fill="#050505"/></g><g filter="url(#b3)"><path d="M330 198L360 190L387 196L385 216L360 224L335 220Z" fill="#151515"/></g><g filter="url(#b2_5)"><path d="M362 225L392 224L395 238L378 241L364 236Z" fill="#181818"/></g><g filter="url(#b1)"><path d="M379 373L399 372L398 380L390 387L380 385Z" fill="#151515"/></g><g fill="none" stroke-linecap="round" stroke-linejoin="round" filter="url(#b1_5)"><path d="M77 201L101 193L122 186.5L138 182.5L157 179.5L185 178" stroke="#595959" stroke-width="6"/></g><g fill="none" stroke-linecap="round" stroke-linejoin="round" filter="url(#b0_8)"><path d="M100 193L122 186.5L138 182.5L157 179.5" stroke="#808080" stroke-width="2.4"/></g><g fill="none" stroke-linecap="round" stroke-linejoin="round" filter="url(#b1_5)"><path d="M78 203L86 215L94 225.5L104 231L122 235.5L141 237L157 234.5L175 229.5L191 222L207 216L228 209L250 203" stroke="#595959" stroke-width="6.5"/></g><g fill="none" stroke-linecap="round" stroke-linejoin="round" filter="url(#b0_8)"><path d="M80 206L86 215.5L94 226L104 231.5L122 236L141 237.5L157 235" stroke="#999999" stroke-width="2.8"/><path d="M157 235L175 230L191 222.5L207 216.5" stroke="#808080" stroke-width="2.2"/></g><g fill="none" stroke-linecap="round" stroke-linejoin="round" filter="url(#b1_5)"><path d="M135 160L157 164L175 168L188 171.5L207 170.5L220 172" stroke="#595959" stroke-width="5"/></g><g fill="none" stroke-linecap="round" stroke-linejoin="round" filter="url(#b0_8)"><path d="M168 166L184 171" stroke="#8c8c8c" stroke-width="2.2"/></g><g fill="none" stroke-linecap="round" stroke-linejoin="round" filter="url(#b1_5)"><path d="M140 175L160 174L180 176" stroke="#434343" stroke-width="4"/></g><g fill="none" stroke-linecap="round" stroke-linejoin="round" filter="url(#b1_2)"><path d="M160 146L175 146.5L186 149.5" stroke="#707070" stroke-width="3"/></g><g filter="url(#b2_5)"><path d="M184 128L196 122L212 131L221 140L205 146L188 140Z" fill="#343434"/></g><g fill="none" stroke-linecap="round" stroke-linejoin="round" filter="url(#b2)"><path d="M118 248L123 262L122 272L131 280" stroke="#5c5c5c" stroke-width="8"/></g><g filter="url(#b2)"><path d="M96 229L118 241L127 251L121 262L110 246L98 237Z" fill="#737373"/></g><g fill="none" stroke-linecap="round" stroke-linejoin="round" filter="url(#b2_5)"><path d="M130 276L158 284L179 291.5L195 294.5L210 293L221 290.5L237 287L252 282" stroke="#575757" stroke-width="15"/></g><g fill="none" stroke-linecap="round" stroke-linejoin="round" filter="url(#b1_5)"><path d="M150 285L166 290L179 295L195 298" stroke="#6b6b6b" stroke-width="5"/><path d="M195 298L210 296L228 292L240 290" stroke="#8c8c8c" stroke-width="6"/></g><g filter="url(#b3)"><path d="M238 282L252 272L275 270L294 279L298 298L284 304L262 300L243 296Z" fill="#bdbdbd"/></g><g fill="none" stroke-linecap="round" stroke-linejoin="round" filter="url(#b0_9)"><path d="M246.6 310.2L247.7 307.1L249.8 304.4L252.7 302L256.3 300.3L260.4 299.3L264.6 299L268.8 299.5L272.8 300.7L276.2 302.6L278.9 305.1" stroke="#ffffff" stroke-width="3.6"/><path d="M239.3 309.4L240.8 305.1L243.8 301.1L247.9 297.8L253.1 295.4L258.8 293.9L264.9 293.5L270.9 294.2L276.5 296L281.3 298.7L285.2 302.2" stroke="#ffffff" stroke-width="3.4"/><path d="M231.9 308.7L234 303L237.8 297.9L243.2 293.6L249.8 290.4L257.3 288.5L265.1 288L272.9 288.9L280.2 291.2L286.5 294.7L291.5 299.3L294.8 304.6L296.3 310.3" stroke="#ffffff" stroke-width="3.4"/><path d="M224.6 307.9L227.1 300.9L231.8 294.7L238.4 289.4L246.5 285.5L255.7 283.1L265.4 282.5L275 283.6L283.9 286.5L291.7 290.8L297.8 296.4L301.9 302.9L303.7 309.9" stroke="#f2f2f2" stroke-width="3.4"/><path d="M225.8 291.4L233.6 285.2L243.3 280.5L254.2 277.8L265.6 277L277 278.4L287.6 281.7L296.8 286.8L304.1 293.5L308.9 301.2L311.1 309.6" stroke="#bfbfbf" stroke-width="3.0"/><path d="M219.2 287.9L228.4 280.6L239.7 275.1L252.5 271.9L265.9 271L279.3 272.6L291.7 276.5L302.4 282.5L310.9 290.3L316.6 299.3L319.2 309.1" stroke="#999999" stroke-width="2.8"/><path d="M211.6 283.8L222.3 275.2L235.6 268.9L250.5 265L266.3 264L281.9 265.9L296.4 270.4L309 277.5L319 286.6L325.6 297.2L328.6 308.7" stroke="#808080" stroke-width="2.8"/><path d="M202.8 279.1L215.4 269.1L230.9 261.7L248.3 257.2L266.6 256L284.8 258.2L301.8 263.5L316.5 271.7L328.1 282.3L335.9 294.7L339.4 308.1" stroke="#6b6b6b" stroke-width="2.8"/></g><g filter="url(#b1_3)"><path d="M234 300L250 298.5L266 300.5L272 305L262 311L240 311Z" fill="#0a0a0a"/></g><g fill="none" stroke-linecap="round" stroke-linejoin="round" filter="url(#b1_5)"><path d="M296 290L305 305L312 322L318 338" stroke="#8c8c8c" stroke-width="3"/></g><g fill="none" stroke-linecap="round" stroke-linejoin="round" filter="url(#b1_1)"><path d="M341 255L334 268L326 279L320 296" stroke="#d9d9d9" stroke-width="2.8"/><path d="M333 254L326 267L318 279L313 294" stroke="#999999" stroke-width="2.4"/><path d="M346 262L340 274L333 285L327 300" stroke="#8c8c8c" stroke-width="2.4"/></g><g fill="none" stroke-linecap="round" stroke-linejoin="round" filter="url(#b1_3)"><path d="M335 303L333 322L330 338" stroke="#999999" stroke-width="3"/><path d="M318 300L322 328L330 346" stroke="#939393" stroke-width="2.5"/></g><g fill="none" stroke-linecap="round" stroke-linejoin="round" filter="url(#b1_5)"><path d="M300 312L306 330L306 345" stroke="#757575" stroke-width="3"/></g><g filter="url(#b2_5)"><path d="M330 258L345 254L350 268L343 282L334 283L329 270Z" fill="#757575"/></g><g fill="none" stroke-linecap="round" stroke-linejoin="round" filter="url(#b1_1)"><path d="M341 256L339 270L336 284" stroke="#d1d1d1" stroke-width="2.6"/></g><g fill="none" stroke-linecap="round" stroke-linejoin="round" filter="url(#b0_6)"><path d="M349.5 258L351.5 285" stroke="#030303" stroke-width="3.6"/></g><g fill="none" stroke-linecap="round" stroke-linejoin="round" filter="url(#b2)"><path d="M240 208L271 208L292 213L308 226L327 234L345 239" stroke="#656565" stroke-width="6"/></g><g fill="none" stroke-linecap="round" stroke-linejoin="round" filter="url(#b1_6)"><path d="M262 255L290 262L318 270" stroke="#8c8c8c" stroke-width="4"/><path d="M270 240L295 248L320 252" stroke="#707070" stroke-width="4"/></g><g fill="none" stroke-linecap="round" stroke-linejoin="round" filter="url(#b1_0)"><path d="M374 274L396 275.5" stroke="#808080" stroke-width="2.6"/></g><g fill="none" stroke-linecap="round" stroke-linejoin="round" filter="url(#b1_5)"><path d="M355 263L385 267L415 265" stroke="#656565" stroke-width="4"/></g><g fill="none" stroke-linecap="round" stroke-linejoin="round" filter="url(#b0_9)"><path d="M440 284.5L450 285" stroke="#939393" stroke-width="2.5"/></g><g fill="none" stroke-linecap="round" stroke-linejoin="round" filter="url(#b2)"><path d="M352 236L372 232" stroke="#656565" stroke-width="5"/><path d="M400 216L408 232L405 250" stroke="#5e5e5e" stroke-width="5"/></g><g filter="url(#b1_3)"><ellipse cx="372" cy="338" rx="5" ry="3.2" transform="rotate(0 372 338)" fill="#737373"/></g><g fill="none" stroke-linecap="round" stroke-linejoin="round" filter="url(#b2_5)"><path d="M440 340L458 328L470 312L480 296" stroke="#4a4a4a" stroke-width="6"/></g><g fill="none" stroke-linecap="round" stroke-linejoin="round" filter="url(#b0_9)"><path d="M486 300L478 316L465 331L447 344L425 352" stroke="#757575" stroke-width="2.2"/></g><g fill="none" stroke-linecap="round" stroke-linejoin="round" filter="url(#b2)"><path d="M420 300L440 292L462 290" stroke="#4a4a4a" stroke-width="5"/></g><g fill="none" stroke-linecap="round" stroke-linejoin="round" filter="url(#b2_5)"><path d="M392 300L398 320L396 340" stroke="#4e4e4e" stroke-width="6"/></g><g fill="none" stroke-linecap="round" stroke-linejoin="round" filter="url(#b1)"><path d="M489.5 331L486 340L483.5 349" stroke="#656565" stroke-width="3"/></g><g fill="none" stroke-linecap="round" stroke-linejoin="round" filter="url(#b1_2)"><path d="M431.4 349L436.7 340.7L440.5 329.8" stroke="#575757" stroke-width="4.2"/><path d="M452.6 306.3L456.7 305L461.6 301.6" stroke="#0f0f0f" stroke-width="3.6"/><path d="M424.4 290.4L430.5 287.7L434 283.5" stroke="#5e5e5e" stroke-width="4.0"/><path d="M356.6 334.1L361.3 329L363.3 326.9" stroke="#0f0f0f" stroke-width="2.9"/><path d="M384.5 362.1L389 356.5L395.3 348.3" stroke="#666666" stroke-width="2.9"/><path d="M351.1 321.4L352.5 316.8L354.8 310.3" stroke="#121212" stroke-width="2.5"/><path d="M436.2 316.6L443.5 309.8L451 304" stroke="#0f0f0f" stroke-width="3.4"/><path d="M371 314.6L373.9 304.2L377.6 294.3" stroke="#121212" stroke-width="4.1"/><path d="M396.6 329.5L399.6 329L404.4 325.8" stroke="#5e5e5e" stroke-width="2.7"/><path d="M378.9 350.7L385.1 344.3L389 339.4" stroke="#0f0f0f" stroke-width="2.7"/><path d="M467.2 293.1L468.2 289L470 284.2" stroke="#5e5e5e" stroke-width="3.2"/><path d="M389.3 311.3L392.1 309.4L396.9 306.3" stroke="#0f0f0f" stroke-width="2.8"/><path d="M417.1 320.1L424.6 315.1L430.2 310.3" stroke="#0f0f0f" stroke-width="2.8"/><path d="M451.8 316.4L460.8 309L469.5 303.8" stroke="#0f0f0f" stroke-width="3.3"/><path d="M367.2 316.1L372.2 314.1L379.4 309.6" stroke="#121212" stroke-width="4.2"/><path d="M413.4 343.1L417.1 337.5L421.3 334" stroke="#0f0f0f" stroke-width="4.1"/><path d="M420.2 308.5L422.4 298.9L426.5 289.3" stroke="#121212" stroke-width="4.1"/><path d="M465.6 320.5L470.3 312.5L473.8 303.5" stroke="#0f0f0f" stroke-width="3.1"/><path d="M424.9 339.5L428.6 334.8L429.5 328.7" stroke="#4c4c4c" stroke-width="3.8"/><path d="M426.6 291.4L430.6 286.7L433.6 282.3" stroke="#0f0f0f" stroke-width="3.5"/><path d="M438 315.7L444.3 311.4L448 307.7" stroke="#0f0f0f" stroke-width="2.8"/><path d="M465 322.7L468.6 319.8L474.3 314" stroke="#5e5e5e" stroke-width="4.2"/><path d="M442.9 342.4L446.3 338.1L447.9 333.2" stroke="#666666" stroke-width="4.4"/><path d="M389.6 331.3L393.3 324.9L393.9 320.4" stroke="#121212" stroke-width="3.4"/><path d="M435.4 309L438.3 301.7L444 294.5" stroke="#5e5e5e" stroke-width="2.8"/><path d="M471 301.1L473.2 293.7L475.2 286.9" stroke="#4c4c4c" stroke-width="3.3"/><path d="M426.2 334.7L432.9 328.2L442.7 322.3" stroke="#4c4c4c" stroke-width="4.2"/><path d="M420.1 312.6L427.2 307.1L431.7 302.8" stroke="#4c4c4c" stroke-width="4.1"/><path d="M404.3 350.1L406.8 344.8L411.4 339" stroke="#121212" stroke-width="3.5"/><path d="M369 300.4L378 295.2L386 290.8" stroke="#4c4c4c" stroke-width="3.6"/><path d="M429.2 304.7L434.5 295.9L440.5 287.6" stroke="#5e5e5e" stroke-width="3.5"/><path d="M409 344L415.2 337.3L423.3 330" stroke="#666666" stroke-width="4.5"/><path d="M410.3 323.1L418.5 315.3L426.7 308.8" stroke="#0f0f0f" stroke-width="2.5"/><path d="M363.6 320.2L368.1 314.2L374 308.3" stroke="#575757" stroke-width="3.0"/><path d="M385.3 303L387.3 297.1L388.6 291.3" stroke="#666666" stroke-width="4.2"/><path d="M383.8 344.5L387.5 336.5L394.1 329.4" stroke="#666666" stroke-width="4.0"/><path d="M425.8 293L432.8 289.8L437.2 284.2" stroke="#121212" stroke-width="2.9"/><path d="M404.2 351.3L410.7 344.6L414.4 336.9" stroke="#0f0f0f" stroke-width="4.3"/><path d="M401.1 319.2L402.6 315.2L405.2 309.2" stroke="#575757" stroke-width="3.1"/><path d="M426.2 337.3L429.3 333.3L434.4 328" stroke="#0f0f0f" stroke-width="4.4"/><path d="M421.6 320.1L424.9 315.9L426.9 313.2" stroke="#575757" stroke-width="4.1"/><path d="M436.3 297.3L443.1 288.4L446.8 278.3" stroke="#575757" stroke-width="2.7"/><path d="M365 334.6L368.1 331.7L368.8 325.9" stroke="#666666" stroke-width="4.3"/><path d="M367.1 333.6L371 328.6L374.2 326.3" stroke="#575757" stroke-width="3.8"/><path d="M450 310L452.6 306.5L455.8 302.3" stroke="#575757" stroke-width="3.4"/><path d="M386.5 337.3L393 327.9L400.3 321.2" stroke="#666666" stroke-width="3.1"/><path d="M441.8 285.2L445.8 284.8L452.8 283.4" stroke="#171717" stroke-width="3.9"/><path d="M434.3 266L439.9 269.3L447.4 270.4" stroke="#666666" stroke-width="3.3"/><path d="M362.6 279.2L370.9 276.4L378.1 272.9" stroke="#5c5c5c" stroke-width="3.8"/><path d="M389.1 265.1L396.7 259.8L404.7 256.8" stroke="#5c5c5c" stroke-width="3.6"/><path d="M442.2 288.6L450.2 287.4L460 285.8" stroke="#666666" stroke-width="3.8"/><path d="M410.2 289L415.2 286.9L420.6 285.6" stroke="#5c5c5c" stroke-width="2.6"/><path d="M449 273L456.2 273.9L464.6 276.6" stroke="#171717" stroke-width="2.8"/><path d="M419.7 288.5L424.8 283.7L431.7 280.8" stroke="#666666" stroke-width="3.0"/><path d="M453.2 277.7L459.2 276.7L465.8 278" stroke="#171717" stroke-width="2.6"/><path d="M396.7 282.5L405.8 283.3L416.4 281.2" stroke="#666666" stroke-width="3.5"/><path d="M450.2 276.7L457.9 272.2L465.5 267.9" stroke="#666666" stroke-width="3.7"/><path d="M425.8 276.3L433.4 272.6L443.8 268.6" stroke="#171717" stroke-width="3.4"/><path d="M390.2 267.4L399 265.9L409.2 265" stroke="#171717" stroke-width="3.4"/><path d="M384.7 273.9L389.1 272.6L394.3 272.5" stroke="#171717" stroke-width="3.0"/><path d="M427.4 292.7L432.8 288.5L437.6 285.4" stroke="#171717" stroke-width="4.0"/><path d="M441.7 278.8L450.1 276.2L460.4 273" stroke="#666666" stroke-width="2.7"/><path d="M203.7 225.5L210.2 224.7L219.5 223.8" stroke="#575757" stroke-width="2.1"/><path d="M175.2 236L180.8 236.7L186.1 234.8" stroke="#575757" stroke-width="2.9"/><path d="M223.5 232.9L233.2 231.7L243.6 230.3" stroke="#575757" stroke-width="2.8"/><path d="M196.2 252.9L207.2 253L218.5 250.6" stroke="#4c4c4c" stroke-width="2.4"/><path d="M221.1 264.3L230.7 265.9L240.2 265.2" stroke="#1a1a1a" stroke-width="2.4"/><path d="M171.7 267.6L179.2 269L189.5 269.3" stroke="#4c4c4c" stroke-width="2.5"/><path d="M166.2 253.1L170.4 251.1L177 250.5" stroke="#575757" stroke-width="2.1"/><path d="M207.4 265.3L217.7 261.1L229.2 257.5" stroke="#4c4c4c" stroke-width="2.0"/><path d="M181 230.1L187.2 229.6L191.8 231.4" stroke="#1a1a1a" stroke-width="2.6"/><path d="M238.8 251.1L246.3 250.7L255.1 252.5" stroke="#1a1a1a" stroke-width="3.3"/><path d="M150 246.7L163.4 245.5L174.1 246.4" stroke="#1a1a1a" stroke-width="2.2"/><path d="M229.4 231.5L235.6 232L241.7 231.8" stroke="#4c4c4c" stroke-width="3.4"/><path d="M206.5 254.5L215.5 254.2L227.1 251.4" stroke="#1a1a1a" stroke-width="2.6"/><path d="M170.9 251L178.9 250.6L183.9 250.6" stroke="#575757" stroke-width="2.5"/><path d="M234.3 258.6L240.8 258.9L248.3 260" stroke="#575757" stroke-width="2.2"/><path d="M182.4 283.2L188.8 283.3L197.4 282" stroke="#4c4c4c" stroke-width="2.7"/><path d="M204.5 252.2L216.6 253.6L229.6 253.9" stroke="#575757" stroke-width="3.1"/><path d="M153 259.7L164.7 262.4L176.3 262.6" stroke="#4c4c4c" stroke-width="3.2"/><path d="M189.1 269.8L196.8 271.3L202.6 269.9" stroke="#1a1a1a" stroke-width="3.2"/><path d="M224.7 266.8L233.4 265.9L243 267.9" stroke="#575757" stroke-width="3.2"/><path d="M180.1 233.5L188.7 233.1L195.5 231.3" stroke="#4c4c4c" stroke-width="3.4"/><path d="M166.9 233.7L172.6 234.5L180.1 234.5" stroke="#575757" stroke-width="2.7"/><path d="M201.6 269.8L213.1 272L222 272.5" stroke="#1a1a1a" stroke-width="2.7"/><path d="M137.3 270.5L150.2 270.2L160.1 270.5" stroke="#1a1a1a" stroke-width="3.1"/><path d="M193.8 251.4L203.9 249.7L213.3 248.1" stroke="#4c4c4c" stroke-width="2.2"/><path d="M220.4 265.2L230.2 267.9L242.2 267.8" stroke="#1a1a1a" stroke-width="3.2"/><path d="M197 236.9L204.2 236.2L209 236.3" stroke="#1a1a1a" stroke-width="3.0"/><path d="M221.8 256.1L232.3 252L245 250" stroke="#575757" stroke-width="3.3"/><path d="M222.2 260.4L227.2 259.3L234.3 257.5" stroke="#575757" stroke-width="2.8"/><path d="M157.2 254.5L167.2 253.4L179.6 251.9" stroke="#1a1a1a" stroke-width="2.3"/><path d="M196.6 232.5L206.5 232.8L214.7 233" stroke="#1a1a1a" stroke-width="3.0"/><path d="M148.4 259.5L158.4 254.7L170.7 252.1" stroke="#1a1a1a" stroke-width="2.5"/><path d="M206.9 246.9L213.1 248.2L221.7 247.9" stroke="#4c4c4c" stroke-width="2.2"/><path d="M167 255.1L177 251L188.9 247.3" stroke="#1a1a1a" stroke-width="2.5"/><path d="M475.3 115.6L475.7 110.8L475.3 106.3" stroke="#575757" stroke-width="2.6"/><path d="M524.9 186.8L529.2 182.4L532.1 176.8" stroke="#141414" stroke-width="2.6"/><path d="M560.4 128.3L565.8 124L568.3 122.4" stroke="#141414" stroke-width="3.2"/><path d="M490.9 99.7L490.7 94.3L492.2 87.1" stroke="#141414" stroke-width="2.1"/><path d="M562.6 143L569.4 138L575.6 131.5" stroke="#575757" stroke-width="2.4"/><path d="M554.7 141.8L558 138.9L561.2 136" stroke="#616161" stroke-width="3.2"/><path d="M524.9 126.6L524.6 120.1L525.9 116.4" stroke="#575757" stroke-width="2.6"/><path d="M479.6 131.8L486.5 126.3L490.6 122.6" stroke="#616161" stroke-width="2.5"/><path d="M500.6 106.5L503 102.4L505.9 98.6" stroke="#575757" stroke-width="2.1"/><path d="M542.6 146.9L549.3 140.4L556 136" stroke="#141414" stroke-width="2.1"/><path d="M546.9 125.8L548.1 121.4L547.2 118.8" stroke="#141414" stroke-width="2.0"/><path d="M511.6 98.8L514 92L516.6 87.4" stroke="#616161" stroke-width="2.2"/><path d="M542.8 160.7L543.4 155.9L546.4 148.6" stroke="#141414" stroke-width="2.6"/><path d="M500.9 112.6L504.2 109.3L509.8 104.6" stroke="#141414" stroke-width="2.9"/><path d="M563.7 161.7L566.3 156.2L566 149.1" stroke="#141414" stroke-width="2.8"/><path d="M489.1 148.1L489.5 141.6L492.9 134.5" stroke="#616161" stroke-width="3.1"/><path d="M486.3 124.2L490 117.6L494.4 108.4" stroke="#575757" stroke-width="2.8"/><path d="M557.3 166.1L558.8 158.9L558.3 151.1" stroke="#575757" stroke-width="3.0"/><path d="M516.5 96.9L522.4 94.4L526.1 88.9" stroke="#616161" stroke-width="2.9"/><path d="M531.5 114.1L534.9 110.5L538.4 107.2" stroke="#616161" stroke-width="3.2"/><path d="M526.2 180.6L531.9 174.1L535.8 168.3" stroke="#141414" stroke-width="2.3"/><path d="M520.6 135.2L526.3 129.7L534.9 126" stroke="#575757" stroke-width="2.1"/><path d="M515.6 187.2L515.2 179L517.3 170.1" stroke="#141414" stroke-width="2.1"/><path d="M548.7 177.5L553.1 176.6L555.7 172.6" stroke="#616161" stroke-width="3.2"/><path d="M541.6 153.3L544.6 148.9L548.3 145.5" stroke="#141414" stroke-width="3.4"/><path d="M563.5 154.1L567.1 149.4L568.3 146.8" stroke="#141414" stroke-width="3.2"/><path d="M473.9 111.6L477.6 107.1L479.9 105" stroke="#616161" stroke-width="2.1"/><path d="M481.4 157.3L484.6 152.5L487.9 150.1" stroke="#141414" stroke-width="3.4"/><path d="M477.9 123.2L481.2 118.3L483 116" stroke="#575757" stroke-width="2.9"/><path d="M532.5 135.9L534.1 130.5L533.3 122.6" stroke="#141414" stroke-width="2.8"/><path d="M541.3 186.2L542.5 178L545.5 171.2" stroke="#575757" stroke-width="3.2"/><path d="M533.9 145.4L536.2 139.4L536.6 133.1" stroke="#575757" stroke-width="3.2"/><path d="M551.4 158L554.5 154.2L560.4 151.1" stroke="#575757" stroke-width="2.5"/><path d="M536.5 156.3L540.9 150.8L547.9 147.2" stroke="#141414" stroke-width="3.4"/><path d="M271.8 203L282.5 201.7L290.8 202.9" stroke="#0a0a0a" stroke-width="3.1"/><path d="M394.8 194.7L409.6 193.3L421.7 192.3" stroke="#333333" stroke-width="2.3"/><path d="M265.9 183.2L275.9 178.1L284.2 173.6" stroke="#0a0a0a" stroke-width="3.1"/><path d="M445.6 159.4L458.9 158.8L469.7 156.5" stroke="#333333" stroke-width="2.5"/><path d="M337.3 207.6L342.1 205.6L348.6 202.2" stroke="#333333" stroke-width="3.2"/><path d="M281.8 204.2L293.6 203.2L307.5 199.7" stroke="#0a0a0a" stroke-width="2.1"/><path d="M353.9 208.5L362.7 205.4L370.6 204.8" stroke="#0a0a0a" stroke-width="2.2"/><path d="M440.6 174.3L446.3 172.1L452.1 168.4" stroke="#0a0a0a" stroke-width="2.6"/><path d="M372.4 193.4L378.9 190.4L383.1 188.1" stroke="#333333" stroke-width="2.5"/><path d="M350.9 193.8L362.2 191.4L373.9 190.7" stroke="#2e2e2e" stroke-width="2.6"/><path d="M426.9 162.4L431.9 160.5L439 161.4" stroke="#2e2e2e" stroke-width="2.3"/><path d="M330.7 189.6L336.8 185.8L345.1 181.6" stroke="#333333" stroke-width="3.2"/><path d="M410.2 164.7L417.9 164.3L427.7 163.6" stroke="#2e2e2e" stroke-width="2.7"/><path d="M421.2 190.6L431.7 188.6L441.7 187.6" stroke="#333333" stroke-width="2.3"/><path d="M273.1 201L279.9 199.4L284.9 195.6" stroke="#333333" stroke-width="2.2"/><path d="M346 212.1L357.5 209.8L371.9 204.6" stroke="#2e2e2e" stroke-width="2.7"/><path d="M383.9 182.7L395.9 179.7L406.7 179.1" stroke="#0a0a0a" stroke-width="2.6"/><path d="M407.2 190.3L414.3 189.8L421.6 190" stroke="#0a0a0a" stroke-width="2.7"/><path d="M255.1 173.6L259.2 172.6L266.1 170.1" stroke="#333333" stroke-width="2.1"/><path d="M420.6 168.7L426.6 167L429.9 164.7" stroke="#2e2e2e" stroke-width="3.2"/><path d="M462.1 172.8L470.7 168.9L479.1 165.8" stroke="#0a0a0a" stroke-width="2.1"/><path d="M298.8 190.2L307 186.7L315.7 180.9" stroke="#2e2e2e" stroke-width="3.0"/><path d="M307.3 204.3L319 199.7L328.4 192.5" stroke="#2e2e2e" stroke-width="3.2"/><path d="M298 187.2L306.9 184.8L313.7 183" stroke="#333333" stroke-width="2.1"/><path d="M451.2 176.6L457.6 173.8L466.8 173.4" stroke="#2e2e2e" stroke-width="2.7"/><path d="M286.7 194.5L293 191.9L298.5 190.3" stroke="#2e2e2e" stroke-width="3.2"/><path d="M390.3 174.4L400.2 170.7L412.6 165.9" stroke="#2e2e2e" stroke-width="2.6"/><path d="M437.2 170.1L444.7 166.7L454.6 161.9" stroke="#2e2e2e" stroke-width="3.1"/><path d="M464.3 165.8L472.8 165.4L480.2 165" stroke="#2e2e2e" stroke-width="2.8"/><path d="M333.4 206L339.9 204L345.4 202.8" stroke="#2e2e2e" stroke-width="2.2"/><path d="M396.7 234.6L398.7 231.3L398.8 226" stroke="#1a1a1a" stroke-width="3.7"/><path d="M348.5 238.1L355.5 233.1L361 228.9" stroke="#575757" stroke-width="3.8"/><path d="M396.3 233L400.1 228.4L404.2 222.6" stroke="#1a1a1a" stroke-width="3.0"/><path d="M385 256.9L388.2 253L392.1 248.6" stroke="#616161" stroke-width="2.7"/><path d="M423.4 230.2L426.7 223.9L431.1 217.3" stroke="#575757" stroke-width="3.2"/><path d="M401.8 231.7L405.6 224.1L406.7 218" stroke="#616161" stroke-width="3.2"/><path d="M415.3 249.2L416.4 242.4L419.6 235.2" stroke="#575757" stroke-width="3.9"/><path d="M364.2 263.6L365.4 257.2L363.8 252.6" stroke="#575757" stroke-width="3.1"/><path d="M381.3 225.7L384.2 219.6L389 215.8" stroke="#575757" stroke-width="3.0"/><path d="M401.7 260L405.7 256.5L407.9 254.1" stroke="#616161" stroke-width="2.5"/><path d="M406.8 228.4L408.9 225.5L411.2 222.1" stroke="#575757" stroke-width="3.9"/><path d="M391.5 262.4L391 254.4L391.8 246.5" stroke="#575757" stroke-width="2.6"/><path d="M388.6 236.8L391.4 232.1L393.7 227.2" stroke="#575757" stroke-width="3.6"/><path d="M398.9 220L397.8 212.9L394.5 206.2" stroke="#616161" stroke-width="2.6"/><path d="M388.4 237.1L390.6 232.5L393.2 226.6" stroke="#1a1a1a" stroke-width="3.2"/><path d="M376.1 241.5L377.7 233.6L380.4 228.5" stroke="#616161" stroke-width="3.5"/><path d="M396.4 257.8L400.5 250.9L401.7 244.5" stroke="#616161" stroke-width="3.6"/><path d="M424.7 217.2L424.5 211.8L421.5 203.6" stroke="#575757" stroke-width="2.7"/><path d="M272.7 281.3L280.4 284.7L288 287.6" stroke="#737373" stroke-width="3.3"/><path d="M276.8 281.9L281.6 287.7L288.4 293.3" stroke="#808080" stroke-width="3.0"/><path d="M266.4 273.8L275.2 279.3L283.3 282.7" stroke="#808080" stroke-width="2.3"/><path d="M249.2 259.8L254.5 267.1L260 272.3" stroke="#737373" stroke-width="3.1"/><path d="M279.4 286.3L286.5 291.9L290.6 294.5" stroke="#808080" stroke-width="3.2"/><path d="M262.8 261.7L267.7 265L271 268.9" stroke="#383838" stroke-width="2.7"/><path d="M325.7 296.2L331.1 301.1L334 306.1" stroke="#8c8c8c" stroke-width="2.8"/><path d="M285.1 259.9L290.9 262.1L297.9 267.2" stroke="#8c8c8c" stroke-width="3.3"/><path d="M243.9 262.3L248.5 265.3L251.3 270.3" stroke="#737373" stroke-width="2.8"/><path d="M248.1 287.6L253.5 294.2L261.3 301.3" stroke="#737373" stroke-width="2.2"/><path d="M229.3 259.7L238.2 261.5L246.6 266" stroke="#737373" stroke-width="2.5"/><path d="M255.9 292.3L260 295.6L266.7 301.4" stroke="#737373" stroke-width="2.2"/><path d="M265.8 281.5L273.1 287L278.4 294.7" stroke="#8c8c8c" stroke-width="2.5"/><path d="M308.9 259.4L317.5 265.6L323.4 273.6" stroke="#8c8c8c" stroke-width="3.4"/><path d="M291.5 272.6L296.5 275.7L298.7 280.3" stroke="#8c8c8c" stroke-width="2.6"/><path d="M312 282.5L317.4 285.3L321.4 290.7" stroke="#737373" stroke-width="2.9"/><path d="M295.7 282.9L301.3 288.5L304.4 292.5" stroke="#808080" stroke-width="2.6"/><path d="M274.3 250.2L279.9 254.4L285.1 260.8" stroke="#383838" stroke-width="2.4"/><path d="M272.5 267.1L281.5 271.5L287.8 275.3" stroke="#808080" stroke-width="2.9"/><path d="M265 263.2L269.8 268.8L277.1 277" stroke="#383838" stroke-width="2.6"/><path d="M280.2 290.8L290.1 295.6L298.9 298.7" stroke="#383838" stroke-width="2.7"/><path d="M295.9 301L304 305.3L310.4 307.5" stroke="#808080" stroke-width="3.1"/><path d="M268.7 282.9L273.9 287.3L278.2 288.7" stroke="#8c8c8c" stroke-width="3.2"/><path d="M267.3 290.3L275.1 293.4L280.9 299" stroke="#808080" stroke-width="2.6"/><path d="M303.2 283.8L312 289.2L321.6 296.8" stroke="#737373" stroke-width="2.9"/><path d="M302 268.7L309.1 271.6L317.7 275.1" stroke="#383838" stroke-width="2.5"/><path d="M267.9 294.5L277.9 299L288.5 303" stroke="#383838" stroke-width="2.5"/><path d="M244.3 270.3L247.9 273.8L254 274.4" stroke="#737373" stroke-width="2.4"/><path d="M275.2 302.4L282.3 306.2L289.1 308.9" stroke="#8c8c8c" stroke-width="2.6"/><path d="M308.9 263L316.6 267.7L325.5 273.3" stroke="#808080" stroke-width="3.1"/><path d="M316.8 331.5L314.2 326.6L314.4 322.4" stroke="#666666" stroke-width="2.8"/><path d="M315 338.9L315.2 336.3L314.7 330.8" stroke="#666666" stroke-width="2.2"/><path d="M335.7 310.3L333.9 305.9L332.7 299.4" stroke="#737373" stroke-width="3.1"/><path d="M334.5 336.1L334 327L334 318.2" stroke="#262626" stroke-width="2.5"/><path d="M298.4 318.6L297.9 312.5L296.2 309.2" stroke="#737373" stroke-width="2.6"/><path d="M296.2 331.2L294.8 325.2L292.9 319" stroke="#262626" stroke-width="2.9"/><path d="M326.6 323L326.4 314.4L325.1 308.1" stroke="#737373" stroke-width="2.4"/><path d="M311.6 328.4L309.7 324.9L308.5 319.1" stroke="#737373" stroke-width="2.6"/><path d="M302.9 326L300.8 318.4L301.1 310.4" stroke="#737373" stroke-width="2.1"/><path d="M306 325.4L305.5 318.5L303.6 311.6" stroke="#666666" stroke-width="2.3"/><path d="M307.8 326L306.6 319.1L302.6 314.2" stroke="#262626" stroke-width="2.4"/><path d="M301.8 334.2L299.5 331.3L298.7 326.7" stroke="#666666" stroke-width="2.2"/><path d="M160.5 178.9L169.6 178.7L180.6 180.2" stroke="#404040" stroke-width="2.9"/><path d="M206.1 144L216.4 145.8L225.2 150.3" stroke="#404040" stroke-width="2.8"/><path d="M162.7 144.7L173.5 145.5L182.4 144.4" stroke="#0a0a0a" stroke-width="2.4"/><path d="M173.7 150.4L183.4 150.7L190.3 150" stroke="#383838" stroke-width="2.6"/><path d="M208.6 156.6L216.6 157.3L226.1 158.4" stroke="#0a0a0a" stroke-width="2.7"/><path d="M184.5 144.4L191.6 146.4L200.2 148.6" stroke="#0a0a0a" stroke-width="2.3"/><path d="M236.6 171.5L246.1 173.1L253.3 173.5" stroke="#404040" stroke-width="2.1"/><path d="M231.7 174.5L240 177.7L246.1 178.6" stroke="#383838" stroke-width="2.2"/><path d="M234.9 159.1L242.1 159.7L246.5 159.6" stroke="#0a0a0a" stroke-width="2.5"/><path d="M202.9 170.4L209.7 172.2L214.7 173.7" stroke="#404040" stroke-width="2.2"/><path d="M181.5 173.6L192.1 174.7L199.8 173.8" stroke="#0a0a0a" stroke-width="2.1"/><path d="M146 152.6L153.1 154.5L162.7 156.6" stroke="#383838" stroke-width="2.9"/><path d="M148.4 170.1L157.5 170.5L168.2 172.6" stroke="#404040" stroke-width="2.4"/><path d="M217 143.1L225.3 144.4L231.5 147.4" stroke="#383838" stroke-width="2.6"/><path d="M175.9 149.5L181.5 149.5L188 152.3" stroke="#383838" stroke-width="2.5"/><path d="M241.2 175.8L250.2 177.1L256.2 179.2" stroke="#404040" stroke-width="2.3"/></g></g></defs>
<g id="pa"><g clip-path="url(#cn)"><use href="#flda" filter="url(#fa)"/></g><g fill="none" stroke="#000" stroke-opacity="0.42" stroke-width="0.9" stroke-dasharray="4.8 4.4"><path d="M50.0 26.4 H636.0"/><path d="M50.0 112.9 H636.0"/><path d="M50.0 199.4 H636.0"/><path d="M50.0 285.9 H636.0"/><path d="M50.0 372.4 H636.0"/><path d="M131.4 26.0 V446.6"/><path d="M217.9 26.0 V446.6"/><path d="M304.4 26.0 V446.6"/><path d="M390.9 26.0 V446.6"/><path d="M477.4 26.0 V446.6"/><path d="M563.9 26.0 V446.6"/></g><rect x="229.5" y="24.3" width="204" height="125.7" fill="#fff"/><rect x="264.2" y="31.3" width="158.5" height="87.5" fill="#fff" stroke="#222" stroke-width="0.9"/><g stroke="#222" stroke-width="0.8"><path d="M264.2 31.3 h-2.5"/><path d="M264.2 45.9 h-2.5"/><path d="M264.2 60.4 h-2.5"/><path d="M264.2 75.0 h-2.5"/><path d="M264.2 89.6 h-2.5"/><path d="M264.2 104.1 h-2.5"/><path d="M264.2 118.7 h-2.5"/><path d="M269.8 118.8 v2.5"/><path d="M299.6 118.8 v2.5"/><path d="M329.3 118.8 v2.5"/><path d="M359.1 118.8 v2.5"/><path d="M388.8 118.8 v2.5"/><path d="M418.6 118.8 v2.5"/></g><text x="258.6" y="35.0" text-anchor="end" class="ct" style="font-size:10.3px">20</text><text x="258.6" y="49.6" text-anchor="end" class="ct" style="font-size:10.3px">18</text><text x="258.6" y="64.1" text-anchor="end" class="ct" style="font-size:10.3px">16</text><text x="258.6" y="78.7" text-anchor="end" class="ct" style="font-size:10.3px">14</text><text x="258.6" y="93.3" text-anchor="end" class="ct" style="font-size:10.3px">12</text><text x="258.6" y="107.8" text-anchor="end" class="ct" style="font-size:10.3px">10</text><text x="258.6" y="122.4" text-anchor="end" class="ct" style="font-size:10.3px">8</text><text x="269.3" y="135.2" text-anchor="middle" class="ct">1981</text><text x="299.1" y="135.2" text-anchor="middle" class="ct">1987</text><text x="328.8" y="135.2" text-anchor="middle" class="ct">1993</text><text x="358.6" y="135.2" text-anchor="middle" class="ct">1999</text><text x="388.3" y="135.2" text-anchor="middle" class="ct">2005</text><text x="418.1" y="135.2" text-anchor="middle" class="ct">2011</text><path d="M274.4 55.9 L417.5 74.3" stroke="#222" stroke-width="0.9"/><g fill="#000"><circle cx="274.4" cy="59.2" r="1.95"/><circle cx="279.3" cy="54.3" r="1.95"/><circle cx="284.2" cy="54.0" r="1.95"/><circle cx="289.1" cy="51.9" r="1.95"/><circle cx="294.0" cy="73.6" r="1.95"/><circle cx="298.9" cy="53.1" r="1.95"/><circle cx="303.8" cy="47.3" r="1.95"/><circle cx="308.7" cy="66.6" r="1.95"/><circle cx="313.9" cy="70.0" r="1.95"/><circle cx="318.8" cy="60.8" r="1.95"/><circle cx="323.7" cy="57.7" r="1.95"/><circle cx="328.6" cy="44.5" r="1.95"/><circle cx="333.5" cy="68.4" r="1.95"/><circle cx="338.4" cy="75.5" r="1.95"/><circle cx="343.3" cy="56.5" r="1.95"/><circle cx="348.2" cy="86.5" r="1.95"/><circle cx="353.1" cy="59.2" r="1.95"/><circle cx="358.0" cy="63.5" r="1.95"/><circle cx="363.0" cy="55.9" r="1.95"/><circle cx="367.9" cy="72.7" r="1.95"/><circle cx="373.1" cy="63.8" r="1.95"/><circle cx="378.0" cy="62.3" r="1.95"/><circle cx="382.9" cy="69.7" r="1.95"/><circle cx="387.8" cy="59.9" r="1.95"/><circle cx="392.7" cy="81.6" r="1.95"/><circle cx="397.6" cy="74.3" r="1.95"/><circle cx="402.5" cy="66.6" r="1.95"/><circle cx="407.4" cy="94.5" r="1.95"/><circle cx="412.3" cy="56.8" r="1.95"/><circle cx="417.5" cy="78.2" r="1.95"/></g><text x="269.6" y="105.2" class="ct">Y = -0.09X + 192.59</text><text x="269.6" y="117.7" class="ct">R<tspan dy="-3.6" font-size="7">2</tspan><tspan dy="3.6"> = 0.24</tspan></text><text transform="translate(242.3 84.8) rotate(-90)" text-anchor="middle" class="cl">Annual eroded soil (Pg)</text><text x="344.6" y="148.1" text-anchor="middle" class="yr">Year</text><text x="53.3" y="48.6" class="ttl">(a) Soil</text><rect x="53.2" y="401.2" width="45.19" height="12.1" fill="#6b8ec2" stroke="#8c8c8c" stroke-width="0.6"/><rect x="98.4" y="401.2" width="45.19" height="12.1" fill="#9bb0c4" stroke="#8c8c8c" stroke-width="0.6"/><rect x="143.6" y="401.2" width="45.19" height="12.1" fill="#cad5c0" stroke="#8c8c8c" stroke-width="0.6"/><rect x="188.8" y="401.2" width="45.19" height="12.1" fill="#ffffbf" stroke="#8c8c8c" stroke-width="0.6"/><rect x="233.9" y="401.2" width="45.19" height="12.1" fill="#fdc98c" stroke="#8c8c8c" stroke-width="0.6"/><rect x="279.1" y="401.2" width="45.19" height="12.1" fill="#f6986b" stroke="#8c8c8c" stroke-width="0.6"/><rect x="324.3" y="401.2" width="45.19" height="12.1" fill="#e9623f" stroke="#8c8c8c" stroke-width="0.6"/><rect x="369.5" y="401.2" width="45.19" height="12.1" fill="#d73027" stroke="#8c8c8c" stroke-width="0.6"/><text x="55.7" y="431" text-anchor="middle" class="lg">0</text><text x="97.4" y="431" text-anchor="middle" class="lg">1</text><text x="142.6" y="431" text-anchor="middle" class="lg">5</text><text x="187.8" y="431" text-anchor="middle" class="lg">10</text><text x="232.9" y="431" text-anchor="middle" class="lg">20</text><text x="278.1" y="431" text-anchor="middle" class="lg">40</text><text x="324.3" y="431" text-anchor="middle" class="lg">80</text><text x="369.5" y="431" text-anchor="middle" class="lg">120</text><text x="414.7" y="431" text-anchor="middle" class="lg">200</text><text x="436" y="431" class="lg">Mg ha<tspan dy="-5.5" font-size="9.3">-1</tspan><tspan dy="5.5">yr</tspan><tspan dy="-5.5" font-size="9.3">-1</tspan></text><text x="73.4" y="335" text-anchor="middle" class="nn">N</text><path d="M73.2 337.3 L65.4 363.8 L73 353.8 Z" fill="#000" stroke="#000" stroke-width="0.7" stroke-linejoin="miter"/><path d="M73.2 337.3 L80.7 363.6 L73 353.8 Z" fill="#fff" stroke="#000" stroke-width="0.9" stroke-linejoin="miter"/><rect x="55.0" y="371.5" width="187.2" height="5.3" fill="#000"/><rect x="66.7" y="372.5" width="11.7" height="3.3" fill="#fff"/><rect x="90.1" y="372.5" width="11.7" height="3.3" fill="#fff"/><rect x="148.6" y="372.5" width="46.8" height="3.3" fill="#fff"/><text x="55.0" y="389.4" text-anchor="middle" class="sb">0</text><text x="78.4" y="389.4" text-anchor="middle" class="sb">300</text><text x="101.8" y="389.4" text-anchor="middle" class="sb">600</text><text x="148.6" y="389.4" text-anchor="middle" class="sb">1,200</text><text x="195.4" y="389.4" text-anchor="middle" class="sb">1,800</text><text x="242.2" y="389.4" text-anchor="middle" class="sb">2,400</text><text x="244.2" y="376.2" class="km">Kilometers</text><rect x="526.8" y="343.9" width="109.2" height="102.7" fill="#fff" stroke="#1a1a1a" stroke-width="1.2"/><g fill="none" stroke="#000" stroke-opacity="0.42" stroke-width="0.9" stroke-dasharray="4.8 4.4"><path d="M527 372.4 H636"/><path d="M563.9 345 V446"/></g><g fill="none" stroke="#858585" stroke-width="0.55"><path d="M530.9 344.2 L532.2 349.2 L530.3 353.1 L528.3 355.8 L529.6 359.7 L527.6 363.6 L528.9 366.3 L531.6 369.6 L534.9 372.8 L538.1 374.8 L540.8 373.5 L540.1 371.5 L544.7 371.5 L549.3 370.2 L552.6 368.2 L554.6 370.9 L557.8 373.5 L561.8 374.4 L564.2 374.9 L564.9 377.6 L565.7 375.5 L568.4 373.5 L573.6 372.2 L578.9 371.5 L582.8 370.2 L586.8 367.6 L590.7 364.3 L594.6 359.7 L597.9 355.1 L600.5 350.5 L600.9 346.6 L599.9 344.2"/><path d="M544.7 371.5 L543.4 366.3 L540.8 362.3 L542.7 359.7 L546.0 358.4 L546.7 354.5 L549.3 352.5 L551.3 349.2 L553.2 347.9 L556.5 345.9 L559.8 344.3"/><path d="M546.7 356.4 L550.6 359.7 L555.2 358.4 L559.2 357.1 L563.1 359.7 L563.8 354.5 L562.4 349.2 L563.8 344.3"/><path d="M563.1 359.7 L567.0 361.7 L570.3 364.3 L569.7 368.2 L568.4 373.5"/><path d="M563.8 354.5 L567.0 350.5 L571.0 349.2 L575.6 349.9 L577.6 354.5 L576.9 359.7 L574.9 363.0 L570.3 364.3"/><path d="M577.6 354.5 L580.2 350.5 L582.8 346.6 L586.8 345.9 L590.0 349.2 L589.4 354.5 L586.8 359.7 L584.1 365.0 L586.8 367.6"/><path d="M590.0 349.2 L593.3 346.6 L596.6 344.3"/><path d="M574.9 363.0 L578.9 364.3 L584.1 365.0"/><path d="M532.2 349.2 L536.8 351.8 L539.5 357.1 L542.7 359.7"/><path d="M575.6 349.9 L576.9 346.6 L578.9 344.3"/><ellipse cx="564.0" cy="381.4" rx="3.3" ry="2.6" transform="rotate(-25 564 381.4)"/><path d="M598.8 363.6 L596.9 366.9 L596.6 371.5 L597.9 373.0 L599.9 368.2 L601.1 364.4 L600.0 363.4 Z"/></g><g stroke="#000" stroke-width="1.7" stroke-linecap="butt"><path d="M602.7 364.6 L603.3 369.5"/><path d="M601.0 373.3 L598.3 376.9"/><path d="M594.9 381.1 L593.0 385.5"/><path d="M592.1 390.6 L592.1 395.2"/><path d="M592.6 402.0 L590.9 406.9"/><path d="M583.9 415.5 L580.9 418.7"/><path d="M574.2 427.4 L569.8 429.1"/><path d="M559.6 416.8 L560.2 421.0"/><path d="M566.2 401.2 L565.3 405.8"/><path d="M562.6 389.8 L564.9 393.6"/></g><rect x="47.5" y="23.5" width="588.5" height="423.1" fill="none" stroke="#1a1a1a" stroke-width="1.3"/><g stroke="#1a1a1a" stroke-width="1.1"><path d="M47.5 26.4 h-4.6"/><path d="M636.0 26.4 h4.6"/><path d="M47.5 112.9 h-4.6"/><path d="M636.0 112.9 h4.6"/><path d="M47.5 199.4 h-4.6"/><path d="M636.0 199.4 h4.6"/><path d="M47.5 285.9 h-4.6"/><path d="M636.0 285.9 h4.6"/><path d="M47.5 372.4 h-4.6"/><path d="M636.0 372.4 h4.6"/><path d="M131.4 23.5 v-4.6"/><path d="M131.4 446.6 v4.6"/><path d="M217.9 23.5 v-4.6"/><path d="M217.9 446.6 v4.6"/><path d="M304.4 23.5 v-4.6"/><path d="M304.4 446.6 v4.6"/><path d="M390.9 23.5 v-4.6"/><path d="M390.9 446.6 v4.6"/><path d="M477.4 23.5 v-4.6"/><path d="M477.4 446.6 v4.6"/><path d="M563.9 23.5 v-4.6"/><path d="M563.9 446.6 v4.6"/></g><text x="42.0" y="32.1" text-anchor="end" class="ax">60° N</text><text x="641.5" y="32.1" class="ax">60° N</text><text x="42.0" y="118.6" text-anchor="end" class="ax">50° N</text><text x="641.5" y="118.6" class="ax">50° N</text><text x="42.0" y="205.1" text-anchor="end" class="ax">40° N</text><text x="641.5" y="205.1" class="ax">40° N</text><text x="42.0" y="291.6" text-anchor="end" class="ax">30° N</text><text x="641.5" y="291.6" class="ax">30° N</text><text x="42.0" y="378.1" text-anchor="end" class="ax">20° N</text><text x="641.5" y="378.1" class="ax">20° N</text><text x="131.4" y="14.5" text-anchor="middle" class="ax">80° E</text><text x="217.9" y="14.5" text-anchor="middle" class="ax">90° E</text><text x="304.4" y="14.5" text-anchor="middle" class="ax">100° E</text><text x="390.9" y="14.5" text-anchor="middle" class="ax">110° E</text><text x="477.4" y="14.5" text-anchor="middle" class="ax">120° E</text><text x="563.9" y="14.5" text-anchor="middle" class="ax">130° E</text></g>
<g id="pb" transform="translate(0 429.2)"><g clip-path="url(#cn)"><use href="#fldb" filter="url(#fb)"/></g><g fill="none" stroke="#000" stroke-opacity="0.42" stroke-width="0.9" stroke-dasharray="4.8 4.4"><path d="M50.0 26.4 H636.0"/><path d="M50.0 112.9 H636.0"/><path d="M50.0 199.4 H636.0"/><path d="M50.0 285.9 H636.0"/><path d="M50.0 372.4 H636.0"/><path d="M131.4 26.0 V446.6"/><path d="M217.9 26.0 V446.6"/><path d="M304.4 26.0 V446.6"/><path d="M390.9 26.0 V446.6"/><path d="M477.4 26.0 V446.6"/><path d="M563.9 26.0 V446.6"/></g><rect x="229.5" y="24.3" width="204" height="125.7" fill="#fff"/><rect x="263.0" y="29.4" width="155.8" height="88.9" fill="#fff" stroke="#222" stroke-width="0.9"/><g stroke="#222" stroke-width="0.8"><path d="M263.0 29.4 h-2.5"/><path d="M263.0 59.0 h-2.5"/><path d="M263.0 88.7 h-2.5"/><path d="M263.0 118.3 h-2.5"/><path d="M269.5 118.3 v2.5"/><path d="M298.7 118.3 v2.5"/><path d="M327.9 118.3 v2.5"/><path d="M357.1 118.3 v2.5"/><path d="M386.3 118.3 v2.5"/><path d="M415.5 118.3 v2.5"/></g><text x="259.8" y="33.1" text-anchor="end" class="ct" style="font-size:11.0px">0.6</text><text x="259.8" y="62.7" text-anchor="end" class="ct" style="font-size:11.0px">0.5</text><text x="259.8" y="92.4" text-anchor="end" class="ct" style="font-size:11.0px">0.4</text><text x="259.8" y="122.0" text-anchor="end" class="ct" style="font-size:11.0px">0.3</text><text x="269.0" y="134.7" text-anchor="middle" class="ct">1981</text><text x="298.2" y="134.7" text-anchor="middle" class="ct">1987</text><text x="327.4" y="134.7" text-anchor="middle" class="ct">1993</text><text x="356.6" y="134.7" text-anchor="middle" class="ct">1999</text><text x="385.8" y="134.7" text-anchor="middle" class="ct">2005</text><text x="415.0" y="134.7" text-anchor="middle" class="ct">2011</text><path d="M273.7 46.5 L414.1 75.6" stroke="#222" stroke-width="0.9"/><g fill="#000"><circle cx="273.7" cy="53.2" r="1.95"/><circle cx="278.3" cy="49.8" r="1.95"/><circle cx="283.2" cy="44.6" r="1.95"/><circle cx="288.2" cy="35.4" r="1.95"/><circle cx="293.1" cy="67.9" r="1.95"/><circle cx="297.7" cy="49.5" r="1.95"/><circle cx="302.6" cy="39.7" r="1.95"/><circle cx="307.5" cy="62.4" r="1.95"/><circle cx="312.4" cy="64.6" r="1.95"/><circle cx="317.3" cy="49.2" r="1.95"/><circle cx="322.2" cy="57.2" r="1.95"/><circle cx="326.8" cy="33.3" r="1.95"/><circle cx="331.7" cy="69.8" r="1.95"/><circle cx="336.6" cy="71.3" r="1.95"/><circle cx="341.5" cy="54.7" r="1.95"/><circle cx="346.4" cy="84.8" r="1.95"/><circle cx="351.0" cy="51.1" r="1.95"/><circle cx="355.9" cy="56.0" r="1.95"/><circle cx="360.8" cy="44.6" r="1.95"/><circle cx="365.7" cy="67.9" r="1.95"/><circle cx="370.3" cy="65.2" r="1.95"/><circle cx="375.2" cy="65.5" r="1.95"/><circle cx="380.1" cy="63.3" r="1.95"/><circle cx="385.0" cy="57.8" r="1.95"/><circle cx="389.9" cy="86.0" r="1.95"/><circle cx="394.8" cy="77.4" r="1.95"/><circle cx="399.7" cy="64.3" r="1.95"/><circle cx="404.6" cy="102.3" r="1.95"/><circle cx="409.2" cy="49.8" r="1.95"/><circle cx="414.1" cy="83.3" r="1.95"/></g><text x="268.2" y="102.7" class="ct">Y = -0.003X + 7.23</text><text x="268.2" y="115.7" class="ct">R<tspan dy="-3.6" font-size="7">2</tspan><tspan dy="3.6"> = 0.31</tspan></text><text transform="translate(239.3 84.5) rotate(-90)" text-anchor="middle" class="cl">Annual eroded C (Pg C)</text><text x="341.5" y="147.4" text-anchor="middle" class="yr">Year</text><text x="53.3" y="48.6" class="ttl">(b) SOC</text><rect x="53.2" y="401.2" width="45.19" height="12.1" fill="#6b8ec2" stroke="#8c8c8c" stroke-width="0.6"/><rect x="98.4" y="401.2" width="45.19" height="12.1" fill="#9bb0c4" stroke="#8c8c8c" stroke-width="0.6"/><rect x="143.6" y="401.2" width="45.19" height="12.1" fill="#cad5c0" stroke="#8c8c8c" stroke-width="0.6"/><rect x="188.8" y="401.2" width="45.19" height="12.1" fill="#ffffbf" stroke="#8c8c8c" stroke-width="0.6"/><rect x="233.9" y="401.2" width="45.19" height="12.1" fill="#fdc98c" stroke="#8c8c8c" stroke-width="0.6"/><rect x="279.1" y="401.2" width="45.19" height="12.1" fill="#f6986b" stroke="#8c8c8c" stroke-width="0.6"/><rect x="324.3" y="401.2" width="45.19" height="12.1" fill="#e9623f" stroke="#8c8c8c" stroke-width="0.6"/><rect x="369.5" y="401.2" width="45.19" height="12.1" fill="#d73027" stroke="#8c8c8c" stroke-width="0.6"/><text x="56.5" y="431" text-anchor="middle" class="lgb">0</text><text x="99.2" y="431" text-anchor="middle" class="lgb">0.01</text><text x="144.4" y="431" text-anchor="middle" class="lgb">0.05</text><text x="189.6" y="431" text-anchor="middle" class="lgb">0.1</text><text x="234.8" y="431" text-anchor="middle" class="lgb">0.2</text><text x="279.9" y="431" text-anchor="middle" class="lgb">0.4</text><text x="325.1" y="431" text-anchor="middle" class="lgb">0.8</text><text x="370.3" y="431" text-anchor="middle" class="lgb">1.2</text><text x="415.5" y="431" text-anchor="middle" class="lgb">2.0</text><text x="434.8" y="431" class="lgb">Mg C ha<tspan dy="-5.5" font-size="9.5">-1</tspan><tspan dy="5.5">yr</tspan><tspan dy="-5.5" font-size="9.5">-1</tspan></text><text x="73.4" y="335" text-anchor="middle" class="nn">N</text><path d="M73.2 337.3 L65.4 363.8 L73 353.8 Z" fill="#000" stroke="#000" stroke-width="0.7" stroke-linejoin="miter"/><path d="M73.2 337.3 L80.7 363.6 L73 353.8 Z" fill="#fff" stroke="#000" stroke-width="0.9" stroke-linejoin="miter"/><rect x="55.0" y="371.5" width="187.2" height="5.3" fill="#000"/><rect x="66.7" y="372.5" width="11.7" height="3.3" fill="#fff"/><rect x="90.1" y="372.5" width="11.7" height="3.3" fill="#fff"/><rect x="148.6" y="372.5" width="46.8" height="3.3" fill="#fff"/><text x="55.0" y="389.4" text-anchor="middle" class="sb">0</text><text x="78.4" y="389.4" text-anchor="middle" class="sb">300</text><text x="101.8" y="389.4" text-anchor="middle" class="sb">600</text><text x="148.6" y="389.4" text-anchor="middle" class="sb">1,200</text><text x="195.4" y="389.4" text-anchor="middle" class="sb">1,800</text><text x="242.2" y="389.4" text-anchor="middle" class="sb">2,400</text><text x="244.2" y="376.2" class="km">Kilometers</text><rect x="526.8" y="343.9" width="109.2" height="102.7" fill="#fff" stroke="#1a1a1a" stroke-width="1.2"/><g fill="none" stroke="#000" stroke-opacity="0.42" stroke-width="0.9" stroke-dasharray="4.8 4.4"><path d="M527 372.4 H636"/><path d="M563.9 345 V446"/></g><g fill="none" stroke="#858585" stroke-width="0.55"><path d="M530.9 344.2 L532.2 349.2 L530.3 353.1 L528.3 355.8 L529.6 359.7 L527.6 363.6 L528.9 366.3 L531.6 369.6 L534.9 372.8 L538.1 374.8 L540.8 373.5 L540.1 371.5 L544.7 371.5 L549.3 370.2 L552.6 368.2 L554.6 370.9 L557.8 373.5 L561.8 374.4 L564.2 374.9 L564.9 377.6 L565.7 375.5 L568.4 373.5 L573.6 372.2 L578.9 371.5 L582.8 370.2 L586.8 367.6 L590.7 364.3 L594.6 359.7 L597.9 355.1 L600.5 350.5 L600.9 346.6 L599.9 344.2"/><path d="M544.7 371.5 L543.4 366.3 L540.8 362.3 L542.7 359.7 L546.0 358.4 L546.7 354.5 L549.3 352.5 L551.3 349.2 L553.2 347.9 L556.5 345.9 L559.8 344.3"/><path d="M546.7 356.4 L550.6 359.7 L555.2 358.4 L559.2 357.1 L563.1 359.7 L563.8 354.5 L562.4 349.2 L563.8 344.3"/><path d="M563.1 359.7 L567.0 361.7 L570.3 364.3 L569.7 368.2 L568.4 373.5"/><path d="M563.8 354.5 L567.0 350.5 L571.0 349.2 L575.6 349.9 L577.6 354.5 L576.9 359.7 L574.9 363.0 L570.3 364.3"/><path d="M577.6 354.5 L580.2 350.5 L582.8 346.6 L586.8 345.9 L590.0 349.2 L589.4 354.5 L586.8 359.7 L584.1 365.0 L586.8 367.6"/><path d="M590.0 349.2 L593.3 346.6 L596.6 344.3"/><path d="M574.9 363.0 L578.9 364.3 L584.1 365.0"/><path d="M532.2 349.2 L536.8 351.8 L539.5 357.1 L542.7 359.7"/><path d="M575.6 349.9 L576.9 346.6 L578.9 344.3"/><ellipse cx="564.0" cy="381.4" rx="3.3" ry="2.6" transform="rotate(-25 564 381.4)"/><path d="M598.8 363.6 L596.9 366.9 L596.6 371.5 L597.9 373.0 L599.9 368.2 L601.1 364.4 L600.0 363.4 Z"/></g><g stroke="#000" stroke-width="1.7" stroke-linecap="butt"><path d="M602.7 364.6 L603.3 369.5"/><path d="M601.0 373.3 L598.3 376.9"/><path d="M594.9 381.1 L593.0 385.5"/><path d="M592.1 390.6 L592.1 395.2"/><path d="M592.6 402.0 L590.9 406.9"/><path d="M583.9 415.5 L580.9 418.7"/><path d="M574.2 427.4 L569.8 429.1"/><path d="M559.6 416.8 L560.2 421.0"/><path d="M566.2 401.2 L565.3 405.8"/><path d="M562.6 389.8 L564.9 393.6"/></g><rect x="47.5" y="23.5" width="588.5" height="423.1" fill="none" stroke="#1a1a1a" stroke-width="1.3"/><g stroke="#1a1a1a" stroke-width="1.1"><path d="M47.5 26.4 h-4.6"/><path d="M636.0 26.4 h4.6"/><path d="M47.5 112.9 h-4.6"/><path d="M636.0 112.9 h4.6"/><path d="M47.5 199.4 h-4.6"/><path d="M636.0 199.4 h4.6"/><path d="M47.5 285.9 h-4.6"/><path d="M636.0 285.9 h4.6"/><path d="M47.5 372.4 h-4.6"/><path d="M636.0 372.4 h4.6"/><path d="M131.4 23.5 v-4.6"/><path d="M131.4 446.6 v4.6"/><path d="M217.9 23.5 v-4.6"/><path d="M217.9 446.6 v4.6"/><path d="M304.4 23.5 v-4.6"/><path d="M304.4 446.6 v4.6"/><path d="M390.9 23.5 v-4.6"/><path d="M390.9 446.6 v4.6"/><path d="M477.4 23.5 v-4.6"/><path d="M477.4 446.6 v4.6"/><path d="M563.9 23.5 v-4.6"/><path d="M563.9 446.6 v4.6"/></g><text x="42.0" y="32.1" text-anchor="end" class="ax">60° N</text><text x="641.5" y="32.1" class="ax">60° N</text><text x="42.0" y="118.6" text-anchor="end" class="ax">50° N</text><text x="641.5" y="118.6" class="ax">50° N</text><text x="42.0" y="205.1" text-anchor="end" class="ax">40° N</text><text x="641.5" y="205.1" class="ax">40° N</text><text x="42.0" y="291.6" text-anchor="end" class="ax">30° N</text><text x="641.5" y="291.6" class="ax">30° N</text><text x="42.0" y="378.1" text-anchor="end" class="ax">20° N</text><text x="641.5" y="378.1" class="ax">20° N</text><text x="131.4" y="464.8" text-anchor="middle" class="ax">80° E</text><text x="217.9" y="464.8" text-anchor="middle" class="ax">90° E</text><text x="304.4" y="464.8" text-anchor="middle" class="ax">100° E</text><text x="390.9" y="464.8" text-anchor="middle" class="ax">110° E</text><text x="477.4" y="464.8" text-anchor="middle" class="ax">120° E</text><text x="563.9" y="464.8" text-anchor="middle" class="ax">130° E</text></g>
</svg>
</body></html>
